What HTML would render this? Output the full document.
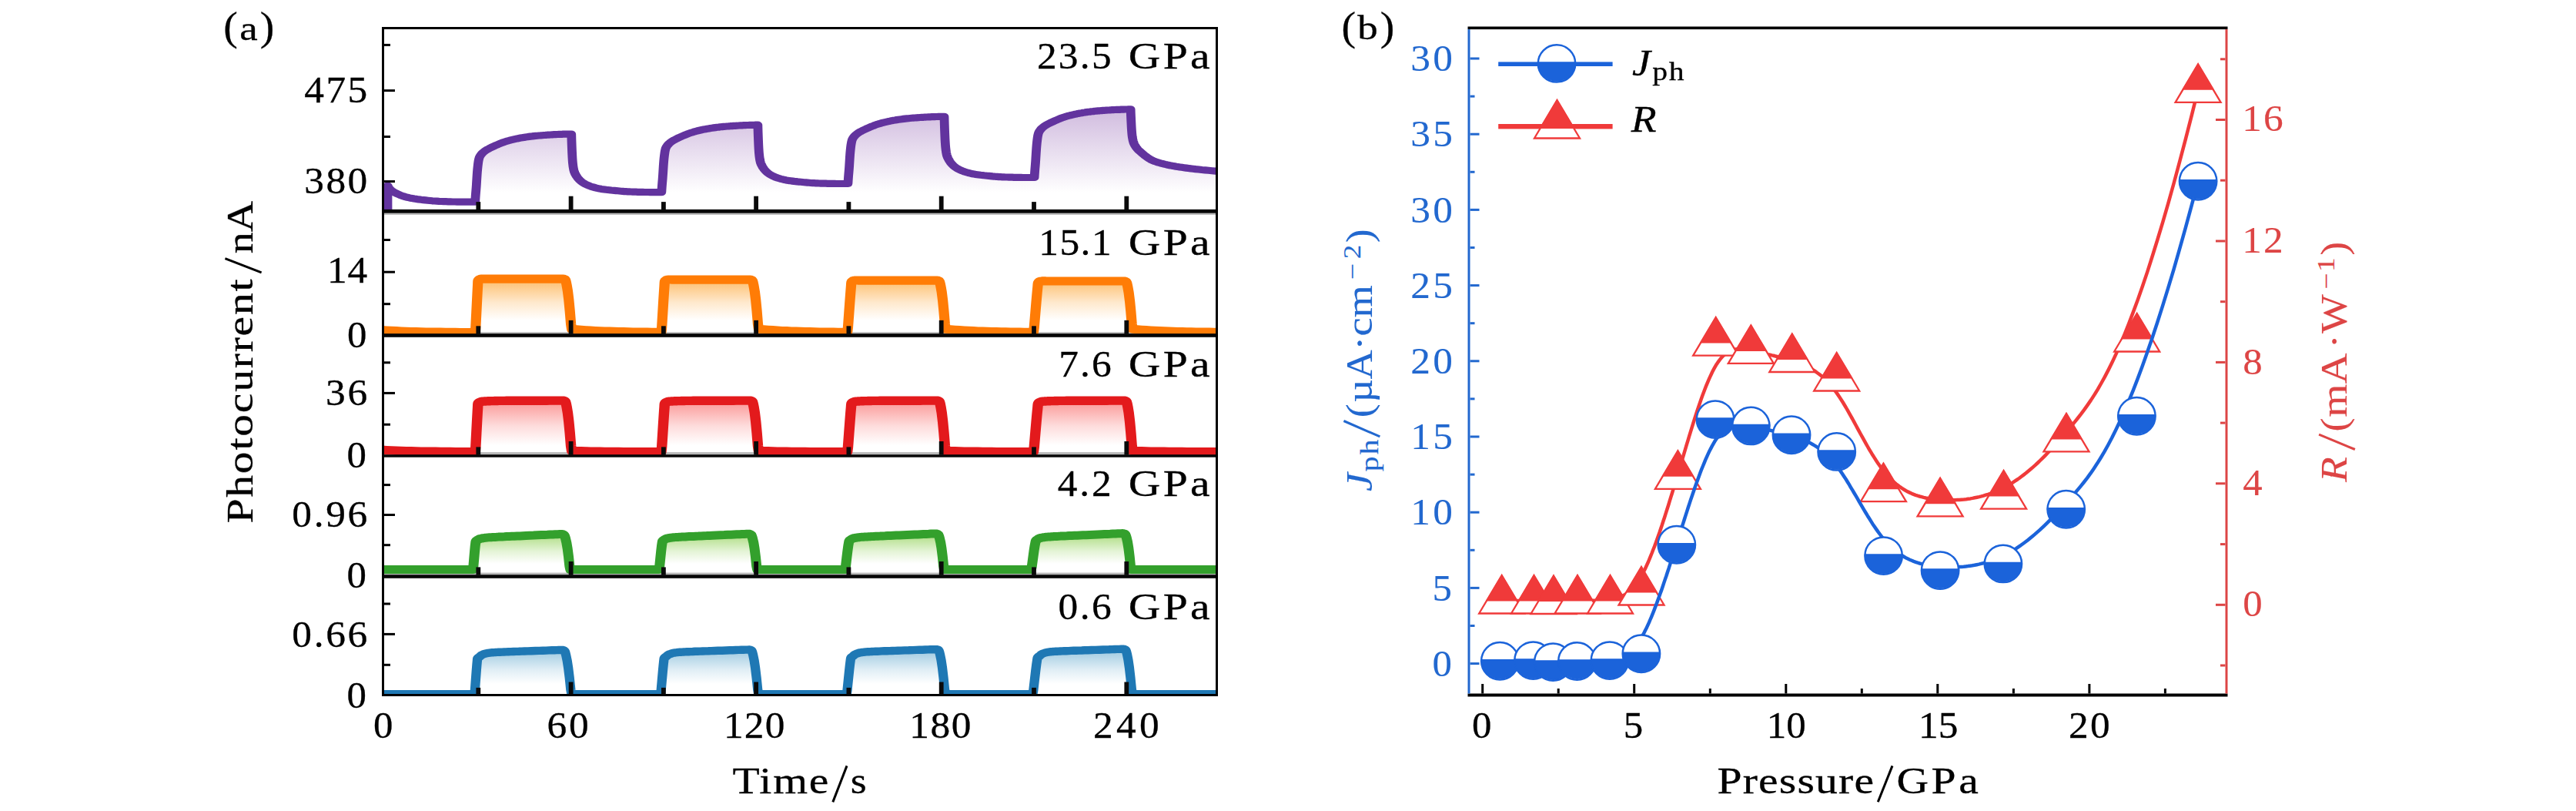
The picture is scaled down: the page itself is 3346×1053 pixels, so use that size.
<!DOCTYPE html>
<html><head><meta charset="utf-8"><title>Photocurrent vs pressure</title>
<style>
html,body{margin:0;padding:0;background:#fff;}
body{width:3346px;height:1053px;overflow:hidden;font-family:"Liberation Serif",serif;}
svg{display:block;position:absolute;left:0;top:0;}
</style></head><body>
<svg width="3346" height="1053" viewBox="0 0 3346 1053">
<rect width="3346" height="1053" fill="#fff"/>
<defs>
<linearGradient id="gP" gradientUnits="userSpaceOnUse" x1="0" y1="138" x2="0" y2="250"><stop offset="0" stop-color="#c4a9d6" stop-opacity="0.82"/><stop offset="1" stop-color="#c4a9d6" stop-opacity="0"/></linearGradient>
<linearGradient id="gO" gradientUnits="userSpaceOnUse" x1="0" y1="364" x2="0" y2="416"><stop offset="0" stop-color="#fdbf6f" stop-opacity="1.0"/><stop offset="0.55" stop-color="#fdbf6f" stop-opacity="0.35"/><stop offset="1" stop-color="#fdbf6f" stop-opacity="0"/></linearGradient>
<linearGradient id="gR" gradientUnits="userSpaceOnUse" x1="0" y1="522" x2="0" y2="578"><stop offset="0" stop-color="#fb9a99" stop-opacity="1.0"/><stop offset="0.55" stop-color="#fb9a99" stop-opacity="0.35"/><stop offset="1" stop-color="#fb9a99" stop-opacity="0"/></linearGradient>
<linearGradient id="gG" gradientUnits="userSpaceOnUse" x1="0" y1="696" x2="0" y2="732"><stop offset="0" stop-color="#b2df8a" stop-opacity="1.0"/><stop offset="0.55" stop-color="#b2df8a" stop-opacity="0.35"/><stop offset="1" stop-color="#b2df8a" stop-opacity="0"/></linearGradient>
<linearGradient id="gB" gradientUnits="userSpaceOnUse" x1="0" y1="847" x2="0" y2="888"><stop offset="0" stop-color="#a6cee3" stop-opacity="1.0"/><stop offset="0.55" stop-color="#a6cee3" stop-opacity="0.35"/><stop offset="1" stop-color="#a6cee3" stop-opacity="0"/></linearGradient>
<clipPath id="clipL"><rect x="497.5" y="36.5" width="1083.0" height="866.0"/></clipPath>
<filter id="nf" x="-5%" y="-5%" width="110%" height="110%"><feOffset dx="0" dy="0"/></filter>
</defs>
<g clip-path="url(#clipL)">
<rect x="497.5" y="276.5" width="1083.0" height="2.4" fill="#b9b9b9"/>
<rect x="497.5" y="431.2" width="1083.0" height="2.1" fill="#b9b9b9"/>
<rect x="497.5" y="587.1" width="1083.0" height="3.3" fill="#b9b9b9"/>
<rect x="497.5" y="743.6" width="1083.0" height="2.8" fill="#b9b9b9"/>
<path d="M503.5,274.0 L503.5,241.0 L503.7,241.5 L504.0,242.1 L504.3,242.6 L504.6,243.1 L504.9,243.6 L505.3,244.1 L505.6,244.5 L506.0,245.0 L506.4,245.5 L506.9,245.9 L507.4,246.4 L507.9,246.8 L508.4,247.3 L509.0,247.7 L509.6,248.1 L510.3,248.6 L511.7,249.5 L513.4,250.4 L515.4,251.4 L517.5,252.3 L519.7,253.3 L522.0,254.2 L524.3,254.9 L526.6,255.6 L529.3,256.3 L532.1,256.9 L535.0,257.4 L537.9,258.0 L540.9,258.4 L543.9,258.9 L546.9,259.3 L549.9,259.6 L552.8,259.9 L555.7,260.2 L558.6,260.5 L561.5,260.8 L564.5,261.0 L567.4,261.2 L570.3,261.4 L573.2,261.5 L576.1,261.6 L579.1,261.7 L582.1,261.8 L585.1,261.9 L588.0,262.0 L590.9,262.0 L593.8,262.1 L596.5,262.1 L598.8,262.1 L601.1,262.1 L603.3,262.2 L605.5,262.2 L607.6,262.2 L609.7,262.2 L611.8,262.2 L613.8,262.2 L617.2,262.2 L617.3,261.1 L617.3,260.0 L617.4,258.9 L617.5,257.8 L617.5,256.7 L617.6,255.6 L617.7,254.5 L617.8,253.4 L617.9,252.2 L618.0,251.1 L618.1,250.0 L618.2,248.8 L618.3,247.6 L618.4,246.4 L618.5,245.1 L618.6,243.7 L618.8,241.0 L619.0,238.0 L619.2,234.6 L619.4,231.1 L619.6,227.6 L619.9,224.1 L620.1,220.9 L620.4,218.1 L620.6,216.3 L620.8,214.5 L621.0,212.7 L621.2,211.0 L621.5,209.4 L621.7,207.9 L622.0,206.6 L622.4,205.3 L622.7,204.5 L623.0,203.8 L623.3,203.1 L623.7,202.4 L624.1,201.8 L624.6,201.2 L625.0,200.6 L625.5,200.0 L625.9,199.5 L626.4,199.0 L626.9,198.5 L627.4,198.1 L627.9,197.6 L628.4,197.2 L629.0,196.7 L629.7,196.2 L630.8,195.4 L632.1,194.6 L633.6,193.8 L635.1,193.0 L636.7,192.1 L638.4,191.3 L640.1,190.5 L641.8,189.7 L643.8,188.8 L645.8,187.9 L648.0,187.0 L650.1,186.1 L652.3,185.3 L654.6,184.5 L656.8,183.8 L659.0,183.1 L661.1,182.5 L663.3,181.9 L665.4,181.4 L667.6,180.9 L669.8,180.4 L671.9,179.9 L674.1,179.5 L676.3,179.1 L678.4,178.7 L680.6,178.4 L682.8,178.0 L684.9,177.7 L687.1,177.4 L689.3,177.1 L691.4,176.9 L693.6,176.6 L695.7,176.4 L697.9,176.2 L700.0,176.0 L702.2,175.9 L704.3,175.7 L706.5,175.5 L708.6,175.4 L710.8,175.2 L713.0,175.1 L715.2,175.0 L717.4,174.8 L719.6,174.7 L721.8,174.6 L723.9,174.5 L726.1,174.4 L728.1,174.4 L729.8,174.3 L731.4,174.2 L733.1,174.2 L734.7,174.1 L736.2,174.1 L737.8,174.1 L739.3,174.0 L740.8,174.0 L742.2,174.0 L742.3,176.3 L742.4,178.7 L742.4,181.0 L742.5,183.3 L742.6,185.6 L742.7,187.9 L742.8,190.2 L742.8,192.4 L742.9,194.6 L743.0,196.8 L743.1,199.0 L743.2,201.2 L743.3,203.3 L743.5,205.4 L743.6,207.5 L743.8,209.5 L743.9,211.1 L744.0,212.7 L744.2,214.2 L744.4,215.7 L744.6,217.2 L744.9,218.6 L745.1,220.0 L745.4,221.4 L745.8,222.6 L746.2,223.7 L746.7,224.9 L747.2,226.0 L747.8,227.0 L748.4,228.1 L749.1,229.1 L749.8,230.0 L750.4,231.0 L751.2,231.9 L752.0,232.8 L752.9,233.7 L753.8,234.5 L754.7,235.3 L755.7,236.1 L756.6,236.8 L757.8,237.6 L759.0,238.3 L760.2,239.0 L761.5,239.6 L762.9,240.2 L764.2,240.8 L765.6,241.4 L767.0,241.9 L768.6,242.4 L770.3,242.9 L772.0,243.4 L773.7,243.9 L775.4,244.3 L777.2,244.7 L779.0,245.0 L780.8,245.4 L782.9,245.7 L785.0,246.0 L787.2,246.3 L789.4,246.5 L791.6,246.7 L793.8,247.0 L796.0,247.2 L798.1,247.4 L800.3,247.6 L802.4,247.8 L804.6,248.0 L806.7,248.2 L808.9,248.4 L811.0,248.6 L813.2,248.7 L815.3,248.8 L817.5,248.9 L819.7,249.0 L821.8,249.1 L824.0,249.2 L826.2,249.2 L828.3,249.3 L830.5,249.3 L832.6,249.4 L834.9,249.4 L837.3,249.5 L839.7,249.5 L842.0,249.5 L844.3,249.6 L846.5,249.6 L848.4,249.6 L849.9,249.6 L850.7,249.6 L851.3,249.6 L852.0,249.6 L852.6,249.6 L853.2,249.6 L853.7,249.6 L854.1,249.6 L854.5,249.6 L859.3,249.6 L859.4,248.5 L859.5,247.5 L859.5,246.4 L859.6,245.3 L859.7,244.2 L859.8,243.1 L859.8,242.0 L859.9,240.9 L860.0,239.7 L860.1,238.6 L860.2,237.5 L860.3,236.3 L860.4,235.2 L860.5,234.0 L860.6,232.6 L860.7,231.2 L860.9,228.6 L861.1,225.6 L861.3,222.3 L861.5,218.8 L861.8,215.3 L862.0,211.9 L862.2,208.7 L862.5,205.9 L862.7,204.1 L862.9,202.3 L863.1,200.6 L863.4,198.9 L863.6,197.3 L863.9,195.8 L864.2,194.5 L864.5,193.2 L864.8,192.4 L865.1,191.7 L865.5,191.0 L865.9,190.4 L866.3,189.7 L866.7,189.1 L867.2,188.5 L867.6,188.0 L868.1,187.5 L868.5,187.0 L869.0,186.5 L869.5,186.1 L870.0,185.6 L870.6,185.2 L871.2,184.7 L871.8,184.2 L872.9,183.4 L874.3,182.6 L875.7,181.8 L877.2,181.0 L878.9,180.2 L880.5,179.3 L882.2,178.5 L883.9,177.8 L885.9,176.9 L888.0,176.0 L890.1,175.1 L892.3,174.2 L894.5,173.4 L896.7,172.6 L898.9,171.9 L901.1,171.2 L903.3,170.6 L905.4,170.0 L907.6,169.5 L909.7,169.0 L911.9,168.5 L914.1,168.1 L916.2,167.7 L918.4,167.3 L920.6,166.9 L922.7,166.5 L924.9,166.2 L927.1,165.9 L929.2,165.6 L931.4,165.3 L933.6,165.1 L935.7,164.8 L937.9,164.6 L940.0,164.4 L942.2,164.2 L944.3,164.0 L946.5,163.9 L948.6,163.7 L950.8,163.6 L952.9,163.4 L955.1,163.3 L957.3,163.2 L959.5,163.0 L961.7,162.9 L963.9,162.8 L966.1,162.7 L968.2,162.6 L970.2,162.5 L971.9,162.5 L973.6,162.4 L975.2,162.4 L976.8,162.3 L978.4,162.3 L979.9,162.3 L981.4,162.2 L982.9,162.2 L984.4,162.2 L984.4,164.6 L984.5,166.9 L984.6,169.3 L984.6,171.6 L984.7,173.9 L984.8,176.2 L984.9,178.5 L985.0,180.8 L985.1,183.0 L985.2,185.2 L985.3,187.4 L985.4,189.6 L985.5,191.8 L985.6,193.9 L985.7,196.0 L985.9,198.0 L986.0,199.6 L986.2,201.2 L986.4,202.8 L986.5,204.3 L986.8,205.8 L987.0,207.3 L987.3,208.7 L987.6,210.0 L987.9,211.2 L988.3,212.4 L988.8,213.5 L989.4,214.6 L989.9,215.7 L990.6,216.8 L991.2,217.8 L991.9,218.7 L992.6,219.7 L993.3,220.6 L994.1,221.5 L995.0,222.4 L995.9,223.3 L996.8,224.1 L997.8,224.9 L998.8,225.6 L999.9,226.4 L1001.1,227.1 L1002.4,227.8 L1003.7,228.4 L1005.0,229.1 L1006.4,229.7 L1007.8,230.2 L1009.2,230.7 L1010.8,231.3 L1012.4,231.8 L1014.1,232.3 L1015.8,232.7 L1017.6,233.1 L1019.4,233.5 L1021.2,233.9 L1023.0,234.2 L1025.0,234.6 L1027.2,234.8 L1029.3,235.1 L1031.5,235.4 L1033.7,235.6 L1035.9,235.9 L1038.1,236.1 L1040.3,236.3 L1042.4,236.5 L1044.6,236.7 L1046.7,236.9 L1048.9,237.1 L1051.0,237.3 L1053.2,237.5 L1055.3,237.6 L1057.5,237.7 L1059.6,237.8 L1061.8,237.9 L1064.0,238.0 L1066.1,238.1 L1068.3,238.1 L1070.5,238.2 L1072.6,238.2 L1074.8,238.3 L1077.0,238.3 L1079.4,238.4 L1081.8,238.4 L1084.2,238.4 L1086.5,238.5 L1088.6,238.5 L1090.5,238.5 L1092.1,238.5 L1092.8,238.5 L1093.5,238.5 L1094.1,238.5 L1094.7,238.5 L1095.3,238.5 L1095.8,238.5 L1096.3,238.5 L1096.7,238.5 L1101.4,238.3 L1101.5,237.2 L1101.6,236.2 L1101.7,235.1 L1101.7,234.0 L1101.8,232.9 L1101.9,231.8 L1102.0,230.7 L1102.0,229.6 L1102.1,228.5 L1102.2,227.3 L1102.3,226.2 L1102.4,225.1 L1102.5,223.9 L1102.6,222.7 L1102.7,221.4 L1102.8,220.0 L1103.0,217.4 L1103.2,214.4 L1103.4,211.1 L1103.7,207.6 L1103.9,204.1 L1104.1,200.8 L1104.4,197.6 L1104.6,194.8 L1104.8,193.0 L1105.0,191.2 L1105.3,189.5 L1105.5,187.8 L1105.7,186.3 L1106.0,184.8 L1106.3,183.4 L1106.6,182.2 L1106.9,181.4 L1107.2,180.7 L1107.6,180.0 L1108.0,179.3 L1108.4,178.7 L1108.8,178.1 L1109.3,177.5 L1109.7,177.0 L1110.2,176.4 L1110.6,176.0 L1111.1,175.5 L1111.6,175.0 L1112.1,174.6 L1112.7,174.2 L1113.3,173.7 L1113.9,173.2 L1115.1,172.4 L1116.4,171.6 L1117.8,170.8 L1119.4,170.0 L1121.0,169.2 L1122.7,168.4 L1124.4,167.6 L1126.0,166.8 L1128.0,165.9 L1130.1,165.0 L1132.2,164.1 L1134.4,163.3 L1136.6,162.4 L1138.8,161.6 L1141.1,160.9 L1143.2,160.3 L1145.4,159.7 L1147.5,159.1 L1149.7,158.6 L1151.9,158.1 L1154.0,157.6 L1156.2,157.2 L1158.4,156.7 L1160.5,156.3 L1162.7,156.0 L1164.9,155.6 L1167.0,155.3 L1169.2,155.0 L1171.4,154.7 L1173.5,154.4 L1175.7,154.1 L1177.8,153.9 L1180.0,153.7 L1182.1,153.5 L1184.3,153.3 L1186.4,153.1 L1188.6,153.0 L1190.7,152.8 L1192.9,152.7 L1195.0,152.5 L1197.2,152.4 L1199.4,152.3 L1201.6,152.1 L1203.9,152.0 L1206.1,151.9 L1208.2,151.8 L1210.3,151.7 L1212.3,151.6 L1214.0,151.6 L1215.7,151.5 L1217.3,151.5 L1218.9,151.4 L1220.5,151.4 L1222.1,151.4 L1223.6,151.3 L1225.0,151.3 L1226.5,151.3 L1226.6,153.8 L1226.6,156.2 L1226.7,158.6 L1226.8,161.1 L1226.9,163.5 L1226.9,165.9 L1227.0,168.3 L1227.1,170.6 L1227.2,172.9 L1227.3,175.2 L1227.4,177.5 L1227.5,179.8 L1227.6,182.0 L1227.7,184.2 L1227.9,186.4 L1228.0,188.4 L1228.1,190.1 L1228.3,191.8 L1228.5,193.4 L1228.7,195.0 L1228.9,196.6 L1229.1,198.1 L1229.4,199.5 L1229.7,201.0 L1230.0,202.2 L1230.5,203.4 L1230.9,204.6 L1231.5,205.7 L1232.1,206.8 L1232.7,207.9 L1233.3,209.0 L1234.0,210.0 L1234.7,211.0 L1235.5,211.9 L1236.3,212.9 L1237.1,213.8 L1238.0,214.7 L1239.0,215.6 L1239.9,216.4 L1240.9,217.1 L1242.0,217.9 L1243.2,218.6 L1244.5,219.4 L1245.8,220.0 L1247.1,220.7 L1248.5,221.3 L1249.9,221.9 L1251.3,222.4 L1252.9,223.0 L1254.5,223.5 L1256.2,224.0 L1257.9,224.5 L1259.7,224.9 L1261.5,225.3 L1263.3,225.7 L1265.1,226.1 L1267.2,226.4 L1269.3,226.7 L1271.4,227.0 L1273.6,227.3 L1275.8,227.5 L1278.0,227.8 L1280.2,228.0 L1282.4,228.2 L1284.6,228.4 L1286.7,228.6 L1288.9,228.9 L1291.0,229.1 L1293.2,229.3 L1295.3,229.4 L1297.5,229.6 L1299.6,229.7 L1301.8,229.8 L1303.9,229.9 L1306.1,230.0 L1308.3,230.0 L1310.4,230.1 L1312.6,230.2 L1314.7,230.2 L1316.9,230.3 L1319.2,230.3 L1321.5,230.3 L1323.9,230.4 L1326.3,230.4 L1328.6,230.5 L1330.7,230.5 L1332.6,230.5 L1334.2,230.5 L1334.9,230.5 L1335.6,230.5 L1336.3,230.5 L1336.9,230.5 L1337.4,230.5 L1337.9,230.5 L1338.4,230.5 L1338.8,230.5 L1343.6,230.5 L1343.6,229.4 L1343.7,228.3 L1343.8,227.2 L1343.9,226.1 L1343.9,225.0 L1344.0,223.9 L1344.1,222.8 L1344.2,221.6 L1344.3,220.5 L1344.4,219.3 L1344.5,218.2 L1344.5,217.1 L1344.6,215.9 L1344.8,214.6 L1344.9,213.3 L1345.0,211.9 L1345.2,209.2 L1345.4,206.2 L1345.6,202.8 L1345.8,199.3 L1346.0,195.7 L1346.3,192.3 L1346.5,189.1 L1346.8,186.2 L1347.0,184.3 L1347.2,182.5 L1347.4,180.8 L1347.6,179.1 L1347.9,177.5 L1348.1,176.0 L1348.4,174.6 L1348.8,173.4 L1349.0,172.6 L1349.4,171.8 L1349.7,171.1 L1350.1,170.4 L1350.5,169.8 L1351.0,169.2 L1351.4,168.6 L1351.9,168.0 L1352.3,167.5 L1352.8,167.0 L1353.2,166.5 L1353.7,166.1 L1354.3,165.6 L1354.8,165.2 L1355.4,164.7 L1356.1,164.2 L1357.2,163.4 L1358.5,162.6 L1360.0,161.8 L1361.5,160.9 L1363.1,160.1 L1364.8,159.3 L1366.5,158.5 L1368.2,157.7 L1370.1,156.8 L1372.2,155.9 L1374.3,155.0 L1376.5,154.1 L1378.7,153.2 L1381.0,152.4 L1383.2,151.7 L1385.4,151.0 L1387.5,150.4 L1389.7,149.9 L1391.8,149.3 L1394.0,148.8 L1396.2,148.3 L1398.3,147.9 L1400.5,147.4 L1402.7,147.0 L1404.8,146.7 L1407.0,146.3 L1409.2,146.0 L1411.3,145.6 L1413.5,145.3 L1415.6,145.1 L1417.8,144.8 L1420.0,144.6 L1422.1,144.3 L1424.3,144.1 L1426.4,143.9 L1428.6,143.8 L1430.7,143.6 L1432.9,143.4 L1435.0,143.3 L1437.2,143.1 L1439.4,143.0 L1441.6,142.9 L1443.8,142.7 L1446.0,142.6 L1448.2,142.5 L1450.3,142.4 L1452.4,142.3 L1454.5,142.3 L1456.2,142.2 L1457.8,142.1 L1459.5,142.1 L1461.1,142.0 L1462.6,142.0 L1464.2,142.0 L1465.7,141.9 L1467.2,141.9 L1468.6,141.9 L1468.7,144.0 L1468.8,146.1 L1468.9,148.1 L1468.9,150.2 L1469.0,152.3 L1469.1,154.4 L1469.2,156.4 L1469.3,158.5 L1469.4,160.6 L1469.6,162.8 L1469.7,165.0 L1469.8,167.1 L1469.9,169.2 L1470.1,171.3 L1470.3,173.3 L1470.4,175.1 L1470.6,176.5 L1470.8,177.9 L1471.0,179.2 L1471.2,180.4 L1471.5,181.7 L1471.8,182.9 L1472.1,184.0 L1472.4,185.1 L1472.8,186.0 L1473.1,186.9 L1473.6,187.7 L1474.0,188.6 L1474.5,189.4 L1475.0,190.2 L1475.6,191.0 L1476.1,191.8 L1476.8,192.7 L1477.6,193.6 L1478.4,194.5 L1479.3,195.4 L1480.3,196.2 L1481.3,197.1 L1482.3,198.0 L1483.3,198.9 L1484.8,200.1 L1486.3,201.4 L1488.0,202.7 L1489.8,204.0 L1491.6,205.2 L1493.4,206.4 L1495.3,207.5 L1497.1,208.4 L1499.1,209.2 L1501.0,209.9 L1503.1,210.6 L1505.1,211.2 L1507.2,211.8 L1509.3,212.3 L1511.4,212.9 L1513.4,213.4 L1515.4,213.8 L1517.4,214.3 L1519.4,214.7 L1521.4,215.1 L1523.4,215.4 L1525.5,215.8 L1527.6,216.2 L1529.7,216.5 L1532.4,216.9 L1535.1,217.3 L1537.9,217.7 L1540.8,218.1 L1543.8,218.5 L1546.8,218.9 L1549.9,219.2 L1553.0,219.6 L1557.0,220.0 L1561.2,220.5 L1565.4,220.9 L1569.8,221.3 L1574.3,221.7 L1578.9,222.1 L1583.6,222.5 L1588.4,222.9 L1588.4,274.0 L503.5,274.0Z" fill="url(#gP)"/>
<g transform="scale(1.28,1)"><path d="M393.36,274.0 L393.36,241.0 L393.55,241.5 L393.75,242.1 L393.97,242.6 L394.21,243.1 L394.47,243.6 L394.74,244.1 L395.02,244.5 L395.31,245.0 L395.65,245.5 L396.00,245.9 L396.37,246.4 L396.76,246.8 L397.19,247.3 L397.65,247.7 L398.14,248.1 L398.67,248.6 L399.78,249.5 L401.11,250.4 L402.62,251.4 L404.27,252.3 L406.01,253.3 L407.81,254.2 L409.62,254.9 L411.41,255.6 L413.49,256.3 L415.68,256.9 L417.94,257.4 L420.25,258.0 L422.60,258.4 L424.96,258.9 L427.30,259.3 L429.61,259.6 L431.88,259.9 L434.15,260.2 L436.43,260.5 L438.70,260.8 L440.98,261.0 L443.26,261.2 L445.54,261.4 L447.81,261.5 L450.11,261.6 L452.43,261.7 L454.76,261.8 L457.09,261.9 L459.39,262.0 L461.66,262.0 L463.87,262.1 L466.02,262.1 L467.81,262.1 L469.58,262.1 L471.32,262.2 L473.02,262.2 L474.70,262.2 L476.34,262.2 L477.95,262.2 L479.53,262.2 L482.18,262.2 L482.23,261.1 L482.28,260.0 L482.34,258.9 L482.40,257.8 L482.46,256.7 L482.52,255.6 L482.58,254.5 L482.64,253.4 L482.71,252.2 L482.79,251.1 L482.86,250.0 L482.94,248.8 L483.02,247.6 L483.10,246.4 L483.18,245.1 L483.27,243.7 L483.42,241.0 L483.57,238.0 L483.73,234.6 L483.90,231.1 L484.08,227.6 L484.27,224.1 L484.47,220.9 L484.68,218.1 L484.83,216.3 L484.99,214.5 L485.16,212.7 L485.33,211.0 L485.53,209.4 L485.74,207.9 L485.98,206.6 L486.24,205.3 L486.45,204.5 L486.70,203.8 L486.98,203.1 L487.29,202.4 L487.61,201.8 L487.95,201.2 L488.31,200.6 L488.66,200.0 L489.01,199.5 L489.36,199.0 L489.73,198.5 L490.12,198.1 L490.53,197.6 L490.97,197.2 L491.44,196.7 L491.94,196.2 L492.83,195.4 L493.84,194.6 L494.97,193.8 L496.18,193.0 L497.45,192.1 L498.76,191.3 L500.08,190.5 L501.39,189.7 L502.94,188.8 L504.55,187.9 L506.21,187.0 L507.92,186.1 L509.65,185.3 L511.38,184.5 L513.12,183.8 L514.83,183.1 L516.50,182.5 L518.19,181.9 L519.87,181.4 L521.56,180.9 L523.26,180.4 L524.95,179.9 L526.65,179.5 L528.35,179.1 L530.03,178.7 L531.72,178.4 L533.41,178.0 L535.10,177.7 L536.79,177.4 L538.48,177.1 L540.17,176.9 L541.86,176.6 L543.54,176.4 L545.22,176.2 L546.90,176.0 L548.58,175.9 L550.26,175.7 L551.94,175.5 L553.62,175.4 L555.30,175.2 L557.00,175.1 L558.73,175.0 L560.46,174.8 L562.19,174.7 L563.90,174.6 L565.59,174.5 L567.23,174.4 L568.82,174.4 L570.14,174.3 L571.44,174.2 L572.71,174.2 L573.97,174.1 L575.19,174.1 L576.40,174.1 L577.58,174.0 L578.74,174.0 L579.88,174.0 L579.93,176.3 L579.98,178.7 L580.03,181.0 L580.09,183.3 L580.15,185.6 L580.21,187.9 L580.28,190.2 L580.35,192.4 L580.42,194.6 L580.49,196.8 L580.57,199.0 L580.65,201.2 L580.74,203.3 L580.83,205.4 L580.94,207.5 L581.05,209.5 L581.16,211.1 L581.29,212.7 L581.42,214.2 L581.57,215.7 L581.75,217.2 L581.94,218.6 L582.15,220.0 L582.38,221.4 L582.64,222.6 L582.96,223.7 L583.34,224.9 L583.77,226.0 L584.23,227.0 L584.72,228.1 L585.23,229.1 L585.74,230.0 L586.29,231.0 L586.88,231.9 L587.51,232.8 L588.18,233.7 L588.88,234.5 L589.61,235.3 L590.36,236.1 L591.13,236.8 L592.01,237.6 L592.95,238.3 L593.92,239.0 L594.94,239.6 L595.99,240.2 L597.06,240.8 L598.16,241.4 L599.26,241.9 L600.50,242.4 L601.78,242.9 L603.10,243.4 L604.44,243.9 L605.81,244.3 L607.20,244.7 L608.61,245.0 L610.04,245.4 L611.65,245.7 L613.30,246.0 L614.98,246.3 L616.69,246.5 L618.41,246.7 L620.14,247.0 L621.85,247.2 L623.55,247.4 L625.23,247.6 L626.91,247.8 L628.59,248.0 L630.27,248.2 L631.95,248.4 L633.63,248.6 L635.31,248.7 L636.99,248.8 L638.68,248.9 L640.37,249.0 L642.06,249.1 L643.75,249.2 L645.44,249.2 L647.13,249.3 L648.82,249.3 L650.51,249.4 L652.26,249.4 L654.10,249.5 L655.98,249.5 L657.84,249.5 L659.63,249.6 L661.29,249.6 L662.78,249.6 L664.02,249.6 L664.58,249.6 L665.12,249.6 L665.62,249.6 L666.09,249.6 L666.52,249.6 L666.93,249.6 L667.29,249.6 L667.62,249.6 L671.34,249.6 L671.39,248.5 L671.45,247.5 L671.50,246.4 L671.56,245.3 L671.62,244.2 L671.68,243.1 L671.74,242.0 L671.81,240.9 L671.88,239.7 L671.95,238.6 L672.02,237.5 L672.10,236.3 L672.18,235.2 L672.26,234.0 L672.35,232.6 L672.43,231.2 L672.58,228.6 L672.74,225.6 L672.90,222.3 L673.07,218.8 L673.24,215.3 L673.43,211.9 L673.63,208.7 L673.84,205.9 L673.99,204.1 L674.15,202.3 L674.32,200.6 L674.50,198.9 L674.69,197.3 L674.90,195.8 L675.14,194.5 L675.40,193.2 L675.61,192.4 L675.86,191.7 L676.14,191.0 L676.45,190.4 L676.78,189.7 L677.12,189.1 L677.47,188.5 L677.82,188.0 L678.17,187.5 L678.53,187.0 L678.90,186.5 L679.28,186.1 L679.70,185.6 L680.13,185.2 L680.60,184.7 L681.11,184.2 L681.99,183.4 L683.01,182.6 L684.14,181.8 L685.35,181.0 L686.62,180.2 L687.92,179.3 L689.25,178.5 L690.56,177.8 L692.10,176.9 L693.71,176.0 L695.38,175.1 L697.08,174.2 L698.81,173.4 L700.55,172.6 L702.28,171.9 L704.00,171.2 L705.67,170.6 L707.35,170.0 L709.04,169.5 L710.73,169.0 L712.42,168.5 L714.12,168.1 L715.82,167.7 L717.51,167.3 L719.20,166.9 L720.88,166.5 L722.57,166.2 L724.26,165.9 L725.95,165.6 L727.65,165.3 L729.34,165.1 L731.03,164.8 L732.71,164.6 L734.39,164.4 L736.06,164.2 L737.74,164.0 L739.42,163.9 L741.10,163.7 L742.78,163.6 L744.46,163.4 L746.17,163.3 L747.89,163.2 L749.62,163.0 L751.35,162.9 L753.07,162.8 L754.75,162.7 L756.39,162.6 L757.98,162.5 L759.30,162.5 L760.60,162.4 L761.88,162.4 L763.13,162.3 L764.36,162.3 L765.56,162.3 L766.75,162.2 L767.90,162.2 L769.05,162.2 L769.09,164.6 L769.14,166.9 L769.19,169.3 L769.25,171.6 L769.31,173.9 L769.38,176.2 L769.45,178.5 L769.52,180.8 L769.59,183.0 L769.66,185.2 L769.73,187.4 L769.81,189.6 L769.90,191.8 L770.00,193.9 L770.10,196.0 L770.22,198.0 L770.33,199.6 L770.45,201.2 L770.59,202.8 L770.74,204.3 L770.91,205.8 L771.10,207.3 L771.31,208.7 L771.55,210.0 L771.80,211.2 L772.13,212.4 L772.51,213.5 L772.93,214.6 L773.39,215.7 L773.88,216.8 L774.39,217.8 L774.91,218.7 L775.45,219.7 L776.04,220.6 L776.67,221.5 L777.34,222.4 L778.04,223.3 L778.77,224.1 L779.52,224.9 L780.30,225.6 L781.18,226.4 L782.11,227.1 L783.09,227.8 L784.11,228.4 L785.15,229.1 L786.23,229.7 L787.32,230.2 L788.42,230.7 L789.67,231.3 L790.95,231.8 L792.26,232.3 L793.61,232.7 L794.98,233.1 L796.37,233.5 L797.78,233.9 L799.20,234.2 L800.81,234.6 L802.46,234.8 L804.15,235.1 L805.85,235.4 L807.58,235.6 L809.30,235.9 L811.02,236.1 L812.72,236.3 L814.40,236.5 L816.08,236.7 L817.76,236.9 L819.43,237.1 L821.11,237.3 L822.79,237.5 L824.47,237.6 L826.16,237.7 L827.84,237.8 L829.53,237.9 L831.22,238.0 L832.91,238.1 L834.60,238.1 L836.29,238.2 L837.98,238.2 L839.67,238.3 L841.42,238.3 L843.27,238.4 L845.15,238.4 L847.01,238.4 L848.80,238.5 L850.46,238.5 L851.94,238.5 L853.19,238.5 L853.75,238.5 L854.28,238.5 L854.78,238.5 L855.25,238.5 L855.69,238.5 L856.09,238.5 L856.46,238.5 L856.78,238.5 L860.50,238.3 L860.56,237.2 L860.61,236.2 L860.67,235.1 L860.72,234.0 L860.78,232.9 L860.84,231.8 L860.91,230.7 L860.97,229.6 L861.04,228.5 L861.11,227.3 L861.19,226.2 L861.26,225.1 L861.34,223.9 L861.42,222.7 L861.51,221.4 L861.60,220.0 L861.75,217.4 L861.90,214.4 L862.06,211.1 L862.23,207.6 L862.41,204.1 L862.59,200.8 L862.79,197.6 L863.00,194.8 L863.16,193.0 L863.32,191.2 L863.48,189.5 L863.66,187.8 L863.86,186.3 L864.07,184.8 L864.30,183.4 L864.57,182.2 L864.78,181.4 L865.03,180.7 L865.31,180.0 L865.61,179.3 L865.94,178.7 L866.28,178.1 L866.63,177.5 L866.99,177.0 L867.33,176.4 L867.69,176.0 L868.06,175.5 L868.45,175.0 L868.86,174.6 L869.30,174.2 L869.77,173.7 L870.27,173.2 L871.16,172.4 L872.17,171.6 L873.30,170.8 L874.51,170.0 L875.78,169.2 L877.09,168.4 L878.41,167.6 L879.72,166.8 L881.27,165.9 L882.88,165.0 L884.54,164.1 L886.25,163.3 L887.97,162.4 L889.71,161.6 L891.45,160.9 L893.16,160.3 L894.83,159.7 L896.51,159.1 L898.20,158.6 L899.89,158.1 L901.59,157.6 L903.28,157.2 L904.98,156.7 L906.68,156.3 L908.36,156.0 L910.05,155.6 L911.74,155.3 L913.43,155.0 L915.12,154.7 L916.81,154.4 L918.50,154.1 L920.19,153.9 L921.87,153.7 L923.55,153.5 L925.23,153.3 L926.91,153.1 L928.59,153.0 L930.27,152.8 L931.95,152.7 L933.63,152.5 L935.33,152.4 L937.05,152.3 L938.79,152.1 L940.52,152.0 L942.23,151.9 L943.91,151.8 L945.56,151.7 L947.14,151.6 L948.47,151.6 L949.77,151.5 L951.04,151.5 L952.29,151.4 L953.52,151.4 L954.73,151.4 L955.91,151.3 L957.07,151.3 L958.21,151.3 L958.26,153.8 L958.30,156.2 L958.36,158.6 L958.42,161.1 L958.48,163.5 L958.54,165.9 L958.61,168.3 L958.68,170.6 L958.75,172.9 L958.82,175.2 L958.90,177.5 L958.98,179.8 L959.06,182.0 L959.16,184.2 L959.27,186.4 L959.38,188.4 L959.49,190.1 L959.61,191.8 L959.75,193.4 L959.90,195.0 L960.07,196.6 L960.26,198.1 L960.48,199.5 L960.71,201.0 L960.97,202.2 L961.29,203.4 L961.67,204.6 L962.09,205.7 L962.56,206.8 L963.05,207.9 L963.55,209.0 L964.07,210.0 L964.61,211.0 L965.20,211.9 L965.83,212.9 L966.50,213.8 L967.20,214.7 L967.93,215.6 L968.69,216.4 L969.46,217.1 L970.34,217.9 L971.27,218.6 L972.25,219.4 L973.27,220.0 L974.32,220.7 L975.39,221.3 L976.48,221.9 L977.59,222.4 L978.83,223.0 L980.11,223.5 L981.42,224.0 L982.77,224.5 L984.14,224.9 L985.53,225.3 L986.94,225.7 L988.37,226.1 L989.97,226.4 L991.62,226.7 L993.31,227.0 L995.02,227.3 L996.74,227.5 L998.46,227.8 L1000.18,228.0 L1001.88,228.2 L1003.56,228.4 L1005.24,228.6 L1006.92,228.9 L1008.60,229.1 L1010.28,229.3 L1011.96,229.4 L1013.64,229.6 L1015.32,229.7 L1017.01,229.8 L1018.69,229.9 L1020.38,230.0 L1022.07,230.0 L1023.76,230.1 L1025.46,230.2 L1027.15,230.2 L1028.84,230.3 L1030.59,230.3 L1032.43,230.3 L1034.31,230.4 L1036.17,230.4 L1037.96,230.5 L1039.62,230.5 L1041.10,230.5 L1042.35,230.5 L1042.91,230.5 L1043.44,230.5 L1043.95,230.5 L1044.42,230.5 L1044.85,230.5 L1045.25,230.5 L1045.62,230.5 L1045.95,230.5 L1049.67,230.5 L1049.72,229.4 L1049.77,228.3 L1049.83,227.2 L1049.89,226.1 L1049.95,225.0 L1050.01,223.9 L1050.07,222.8 L1050.14,221.6 L1050.21,220.5 L1050.28,219.3 L1050.35,218.2 L1050.43,217.1 L1050.51,215.9 L1050.59,214.6 L1050.67,213.3 L1050.76,211.9 L1050.91,209.2 L1051.06,206.2 L1051.22,202.8 L1051.39,199.3 L1051.57,195.7 L1051.76,192.3 L1051.96,189.1 L1052.17,186.2 L1052.32,184.3 L1052.48,182.5 L1052.65,180.8 L1052.83,179.1 L1053.02,177.5 L1053.23,176.0 L1053.47,174.6 L1053.73,173.4 L1053.94,172.6 L1054.19,171.8 L1054.47,171.1 L1054.78,170.4 L1055.10,169.8 L1055.45,169.2 L1055.80,168.6 L1056.15,168.0 L1056.50,167.5 L1056.85,167.0 L1057.22,166.5 L1057.61,166.1 L1058.02,165.6 L1058.46,165.2 L1058.93,164.7 L1059.43,164.2 L1060.32,163.4 L1061.34,162.6 L1062.46,161.8 L1063.67,160.9 L1064.94,160.1 L1066.25,159.3 L1067.57,158.5 L1068.89,157.7 L1070.43,156.8 L1072.04,155.9 L1073.71,155.0 L1075.41,154.1 L1077.14,153.2 L1078.88,152.4 L1080.61,151.7 L1082.32,151.0 L1084.00,150.4 L1085.68,149.9 L1087.36,149.3 L1089.05,148.8 L1090.75,148.3 L1092.45,147.9 L1094.14,147.4 L1095.84,147.0 L1097.52,146.7 L1099.21,146.3 L1100.90,146.0 L1102.59,145.6 L1104.28,145.3 L1105.97,145.1 L1107.66,144.8 L1109.36,144.6 L1111.03,144.3 L1112.71,144.1 L1114.39,143.9 L1116.07,143.8 L1117.75,143.6 L1119.43,143.4 L1121.11,143.3 L1122.79,143.1 L1124.49,143.0 L1126.22,142.9 L1127.95,142.7 L1129.68,142.6 L1131.39,142.5 L1133.08,142.4 L1134.72,142.3 L1136.31,142.3 L1137.63,142.2 L1138.93,142.1 L1140.20,142.1 L1141.46,142.0 L1142.69,142.0 L1143.89,142.0 L1145.07,141.9 L1146.23,141.9 L1147.38,141.9 L1147.43,144.0 L1147.48,146.1 L1147.55,148.1 L1147.61,150.2 L1147.69,152.3 L1147.76,154.4 L1147.84,156.4 L1147.92,158.5 L1148.01,160.6 L1148.09,162.8 L1148.18,165.0 L1148.28,167.1 L1148.39,169.2 L1148.51,171.3 L1148.64,173.3 L1148.78,175.1 L1148.91,176.5 L1149.06,177.9 L1149.23,179.2 L1149.41,180.4 L1149.62,181.7 L1149.84,182.9 L1150.08,184.0 L1150.34,185.1 L1150.60,186.0 L1150.89,186.9 L1151.21,187.7 L1151.57,188.6 L1151.95,189.4 L1152.36,190.2 L1152.79,191.0 L1153.23,191.8 L1153.78,192.7 L1154.39,193.6 L1155.04,194.5 L1155.73,195.4 L1156.47,196.2 L1157.24,197.1 L1158.04,198.0 L1158.86,198.9 L1159.98,200.1 L1161.21,201.4 L1162.51,202.7 L1163.87,204.0 L1165.28,205.2 L1166.72,206.4 L1168.18,207.5 L1169.64,208.4 L1171.14,209.2 L1172.68,209.9 L1174.26,210.6 L1175.87,211.2 L1177.50,211.8 L1179.13,212.3 L1180.76,212.9 L1182.38,213.4 L1183.94,213.8 L1185.49,214.3 L1187.04,214.7 L1188.59,215.1 L1190.16,215.4 L1191.76,215.8 L1193.41,216.2 L1195.11,216.5 L1197.20,216.9 L1199.33,217.3 L1201.52,217.7 L1203.77,218.1 L1206.07,218.5 L1208.42,218.9 L1210.84,219.2 L1213.31,219.6 L1216.44,220.0 L1219.67,220.5 L1222.99,220.9 L1226.40,221.3 L1229.91,221.7 L1233.51,222.1 L1237.19,222.5 L1240.97,222.9" fill="none" stroke="#62339e" stroke-width="9.2" stroke-linejoin="round"/></g>
<path d="M617.2,431.5 L617.9,424.7 L618.8,405.9 L619.6,390.4 L620.2,378.5 L620.6,370.5 L620.7,368.6 L620.7,367.0 L620.8,365.8 L620.9,364.7 L621.2,364.0 L621.9,363.3 L622.7,362.8 L623.5,362.5 L624.1,362.3 L624.7,362.2 L625.4,362.1 L626.0,362.1 L626.7,362.1 L627.5,362.1 L628.2,362.1 L629.0,362.1 L629.7,362.1 L630.5,362.1 L631.2,362.1 L632.0,362.1 L632.9,362.1 L633.9,362.1 L635.0,362.1 L636.0,362.1 L637.2,362.1 L638.4,362.1 L639.7,362.1 L641.0,362.1 L642.6,362.1 L644.3,362.1 L646.1,362.1 L648.0,362.1 L650.3,362.1 L652.8,362.1 L655.4,362.1 L658.0,362.1 L661.1,362.1 L664.3,362.1 L667.6,362.1 L671.0,362.1 L674.6,362.1 L678.3,362.1 L682.1,362.1 L686.0,362.1 L690.9,362.1 L696.0,362.1 L701.1,362.1 L706.0,362.1 L710.0,362.1 L713.8,362.1 L717.5,362.1 L721.0,362.1 L723.7,362.1 L726.3,362.1 L728.8,362.1 L731.2,362.1 L732.0,362.2 L732.8,362.4 L733.5,362.7 L734.0,363.0 L734.6,363.9 L735.1,365.6 L735.6,367.6 L736.1,369.9 L737.4,377.9 L738.8,389.2 L740.2,403.5 L741.6,420.7 L742.6,427.2 L742.6,431.7 L617.2,431.7Z" fill="url(#gO)"/>
<path d="M858.9,431.4 L859.7,424.8 L860.8,406.2 L861.7,390.9 L862.5,379.2 L863.0,371.2 L863.1,369.4 L863.2,367.9 L863.3,366.6 L863.4,365.6 L863.8,364.9 L864.4,364.2 L865.2,363.7 L866.0,363.4 L866.6,363.3 L867.2,363.1 L867.9,363.1 L868.5,363.0 L869.2,363.0 L870.0,363.0 L870.7,363.0 L871.5,363.0 L872.2,363.0 L873.0,363.1 L873.7,363.1 L874.5,363.1 L875.4,363.1 L876.4,363.1 L877.5,363.1 L878.5,363.1 L879.7,363.1 L880.9,363.1 L882.2,363.1 L883.5,363.1 L885.1,363.1 L886.8,363.1 L888.6,363.1 L890.5,363.1 L892.8,363.1 L895.3,363.1 L897.9,363.1 L900.5,363.1 L903.6,363.1 L906.8,363.1 L910.1,363.1 L913.5,363.1 L917.1,363.1 L920.8,363.1 L924.6,363.1 L928.5,363.1 L933.4,363.1 L938.5,363.1 L943.6,363.1 L948.5,363.1 L952.5,363.1 L956.3,363.1 L960.0,363.1 L963.5,363.1 L966.3,363.1 L969.0,363.1 L971.6,363.1 L974.1,363.1 L975.0,363.2 L975.7,363.4 L976.4,363.7 L976.9,364.0 L977.6,364.9 L978.1,366.5 L978.5,368.5 L979.0,370.8 L980.3,378.7 L981.7,389.7 L983.1,403.8 L984.5,420.8 L985.5,427.2 L985.5,431.7 L858.9,431.7Z" fill="url(#gO)"/>
<path d="M1100.7,431.4 L1101.5,424.9 L1102.8,406.6 L1103.9,391.5 L1104.8,380.0 L1105.4,372.1 L1105.5,370.4 L1105.6,368.9 L1105.7,367.6 L1105.9,366.6 L1106.3,365.9 L1106.9,365.2 L1107.7,364.7 L1108.5,364.4 L1109.1,364.3 L1109.7,364.1 L1110.4,364.1 L1111.0,364.0 L1111.7,364.0 L1112.5,364.0 L1113.2,364.0 L1114.0,364.0 L1114.7,364.0 L1115.5,364.1 L1116.2,364.1 L1117.0,364.1 L1117.9,364.1 L1118.9,364.1 L1120.0,364.1 L1121.0,364.1 L1122.2,364.1 L1123.4,364.1 L1124.7,364.1 L1126.0,364.1 L1127.6,364.1 L1129.3,364.1 L1131.1,364.1 L1133.0,364.1 L1135.3,364.1 L1137.8,364.1 L1140.4,364.1 L1143.0,364.1 L1146.1,364.1 L1149.3,364.1 L1152.6,364.1 L1156.0,364.1 L1159.6,364.1 L1163.3,364.1 L1167.1,364.1 L1171.0,364.1 L1175.9,364.1 L1181.0,364.1 L1186.1,364.1 L1191.0,364.1 L1195.0,364.1 L1198.8,364.1 L1202.5,364.1 L1206.0,364.1 L1208.9,364.1 L1211.7,364.1 L1214.5,364.1 L1217.1,364.1 L1217.9,364.2 L1218.7,364.4 L1219.3,364.7 L1219.9,365.0 L1220.5,365.9 L1221.0,367.5 L1221.4,369.4 L1221.9,371.7 L1223.3,379.4 L1224.6,390.3 L1226.0,404.2 L1227.3,420.9 L1228.3,427.2 L1228.3,431.7 L1100.7,431.7Z" fill="url(#gO)"/>
<path d="M1342.4,431.4 L1343.3,425.0 L1344.8,406.9 L1346.1,392.0 L1347.1,380.6 L1347.8,372.9 L1348.0,371.2 L1348.1,369.7 L1348.2,368.5 L1348.4,367.5 L1348.8,366.8 L1349.5,366.1 L1350.2,365.6 L1351.0,365.3 L1351.6,365.2 L1352.2,365.0 L1352.9,365.0 L1353.5,364.9 L1354.2,364.9 L1355.0,364.9 L1355.7,364.9 L1356.5,364.9 L1357.2,364.9 L1358.0,365.0 L1358.7,365.0 L1359.5,365.0 L1360.4,365.0 L1361.4,365.0 L1362.5,365.0 L1363.5,365.0 L1364.7,365.0 L1365.9,365.0 L1367.2,365.0 L1368.5,365.0 L1370.1,365.0 L1371.8,365.0 L1373.6,365.0 L1375.5,365.0 L1377.8,365.0 L1380.3,365.0 L1382.9,365.0 L1385.5,365.0 L1388.6,365.0 L1391.8,365.0 L1395.1,365.0 L1398.5,365.0 L1402.1,365.0 L1405.8,365.0 L1409.6,365.0 L1413.5,365.0 L1418.4,365.0 L1423.5,365.0 L1428.6,365.0 L1433.5,365.0 L1437.4,365.0 L1441.3,365.0 L1444.9,365.0 L1448.5,365.0 L1451.5,365.0 L1454.4,365.0 L1457.3,365.0 L1460.0,365.0 L1460.8,365.1 L1461.6,365.3 L1462.3,365.6 L1462.8,365.9 L1463.4,366.8 L1463.9,368.3 L1464.4,370.3 L1464.8,372.5 L1466.2,380.1 L1467.5,390.8 L1468.9,404.5 L1470.2,421.0 L1471.2,427.2 L1471.2,431.7 L1342.4,431.7Z" fill="url(#gO)"/>
<g transform="scale(1.18,1)"><path d="M419.92,428.5 L425.34,429.0 L430.77,429.4 L436.20,429.7 L441.63,430.0 L447.06,430.3 L452.48,430.5 L457.91,430.7 L463.34,430.8 L468.77,431.0 L474.20,431.1 L479.63,431.2 L485.05,431.2 L490.48,431.3 L495.91,431.4 L501.34,431.4 L506.77,431.5 L512.19,431.5 L517.62,431.5 L523.05,431.5 L523.05,431.5 L523.60,424.7 L524.39,405.9 L525.05,390.4 L525.56,378.5 L525.92,370.5 L525.99,368.6 L526.03,367.0 L526.09,365.8 L526.19,364.7 L526.48,364.0 L527.05,363.3 L527.74,362.8 L528.39,362.5 L528.90,362.3 L529.42,362.2 L529.96,362.1 L530.51,362.1 L531.13,362.1 L531.76,362.1 L532.41,362.1 L533.05,362.1 L533.68,362.1 L534.30,362.1 L534.93,362.1 L535.59,362.1 L536.40,362.1 L537.23,362.1 L538.10,362.1 L538.98,362.1 L539.99,362.1 L541.03,362.1 L542.10,362.1 L543.22,362.1 L544.61,362.1 L546.06,362.1 L547.57,362.1 L549.15,362.1 L551.14,362.1 L553.23,362.1 L555.40,362.1 L557.63,362.1 L560.26,362.1 L562.99,362.1 L565.80,362.1 L568.64,362.1 L571.72,362.1 L574.83,362.1 L578.03,362.1 L581.36,362.1 L585.48,362.1 L589.83,362.1 L594.18,362.1 L598.31,362.1 L601.67,362.1 L604.93,362.1 L608.06,362.1 L611.02,362.1 L613.33,362.1 L615.54,362.1 L617.65,362.1 L619.66,362.1 L620.36,362.2 L621.01,362.4 L621.58,362.7 L622.03,363.0 L622.57,363.9 L622.99,365.6 L623.37,367.6 L623.77,369.9 L624.94,377.9 L626.11,389.2 L627.28,403.5 L628.47,420.7 L629.32,427.2 L629.32,427.2 L634.51,427.8 L639.70,428.3 L644.89,428.8 L650.08,429.1 L655.27,429.5 L660.45,429.8 L665.64,430.0 L670.83,430.2 L676.02,430.4 L681.21,430.6 L686.40,430.7 L691.59,430.9 L696.78,431.0 L701.97,431.1 L707.15,431.1 L712.34,431.2 L717.53,431.3 L722.72,431.3 L727.91,431.4 L727.91,431.4 L728.53,424.8 L729.48,406.2 L730.27,390.9 L730.90,379.2 L731.35,371.2 L731.44,369.4 L731.50,367.9 L731.57,366.6 L731.69,365.6 L732.00,364.9 L732.57,364.2 L733.25,363.7 L733.90,363.4 L734.41,363.3 L734.93,363.1 L735.47,363.1 L736.02,363.0 L736.64,363.0 L737.27,363.0 L737.92,363.0 L738.56,363.0 L739.19,363.0 L739.81,363.1 L740.44,363.1 L741.10,363.1 L741.91,363.1 L742.74,363.1 L743.61,363.1 L744.49,363.1 L745.50,363.1 L746.54,363.1 L747.61,363.1 L748.73,363.1 L750.12,363.1 L751.57,363.1 L753.08,363.1 L754.66,363.1 L756.65,363.1 L758.73,363.1 L760.90,363.1 L763.14,363.1 L765.77,363.1 L768.50,363.1 L771.31,363.1 L774.15,363.1 L777.22,363.1 L780.34,363.1 L783.54,363.1 L786.86,363.1 L790.99,363.1 L795.34,363.1 L799.69,363.1 L803.81,363.1 L807.17,363.1 L810.42,363.1 L813.55,363.1 L816.53,363.1 L818.92,363.1 L821.22,363.1 L823.43,363.1 L825.54,363.1 L826.24,363.2 L826.89,363.4 L827.45,363.7 L827.91,364.0 L828.44,364.9 L828.86,366.5 L829.24,368.5 L829.64,370.8 L830.80,378.7 L831.96,389.7 L833.12,403.8 L834.29,420.8 L835.14,427.2 L835.14,427.2 L840.28,427.8 L845.42,428.3 L850.56,428.7 L855.69,429.1 L860.83,429.5 L865.97,429.7 L871.11,430.0 L876.25,430.2 L881.39,430.4 L886.52,430.6 L891.66,430.7 L896.80,430.8 L901.94,431.0 L907.08,431.1 L912.22,431.1 L917.35,431.2 L922.49,431.3 L927.63,431.3 L932.77,431.4 L932.77,431.4 L933.45,424.9 L934.57,406.6 L935.50,391.5 L936.24,380.0 L936.78,372.1 L936.89,370.4 L936.97,368.9 L937.06,367.6 L937.20,366.6 L937.52,365.9 L938.09,365.2 L938.76,364.7 L939.41,364.4 L939.92,364.3 L940.44,364.1 L940.98,364.1 L941.53,364.0 L942.14,364.0 L942.78,364.0 L943.43,364.0 L944.07,364.0 L944.70,364.0 L945.32,364.1 L945.95,364.1 L946.61,364.1 L947.41,364.1 L948.25,364.1 L949.11,364.1 L950.00,364.1 L951.01,364.1 L952.05,364.1 L953.12,364.1 L954.24,364.1 L955.62,364.1 L957.08,364.1 L958.59,364.1 L960.17,364.1 L962.15,364.1 L964.24,364.1 L966.41,364.1 L968.64,364.1 L971.28,364.1 L974.01,364.1 L976.82,364.1 L979.66,364.1 L982.73,364.1 L985.85,364.1 L989.05,364.1 L992.37,364.1 L996.49,364.1 L1000.85,364.1 L1005.20,364.1 L1009.32,364.1 L1012.67,364.1 L1015.91,364.1 L1019.04,364.1 L1022.03,364.1 L1024.51,364.1 L1026.90,364.1 L1029.20,364.1 L1031.41,364.1 L1032.11,364.2 L1032.76,364.4 L1033.33,364.7 L1033.79,365.0 L1034.31,365.9 L1034.73,367.5 L1035.11,369.4 L1035.51,371.7 L1036.66,379.4 L1037.81,390.3 L1038.96,404.2 L1040.12,420.9 L1040.96,427.2 L1040.96,427.2 L1046.05,427.8 L1051.14,428.3 L1056.22,428.7 L1061.31,429.1 L1066.40,429.4 L1071.49,429.7 L1076.57,430.0 L1081.66,430.2 L1086.75,430.4 L1091.84,430.6 L1096.93,430.7 L1102.01,430.8 L1107.10,430.9 L1112.19,431.0 L1117.28,431.1 L1122.36,431.2 L1127.45,431.3 L1132.54,431.3 L1137.63,431.4 L1137.63,431.4 L1138.37,425.0 L1139.66,406.9 L1140.72,392.0 L1141.58,380.6 L1142.21,372.9 L1142.34,371.2 L1142.43,369.7 L1142.54,368.5 L1142.71,367.5 L1143.04,366.8 L1143.61,366.1 L1144.28,365.6 L1144.92,365.3 L1145.42,365.2 L1145.95,365.0 L1146.48,365.0 L1147.03,364.9 L1147.65,364.9 L1148.29,364.9 L1148.93,364.9 L1149.58,364.9 L1150.20,364.9 L1150.83,365.0 L1151.46,365.0 L1152.12,365.0 L1152.92,365.0 L1153.76,365.0 L1154.62,365.0 L1155.51,365.0 L1156.52,365.0 L1157.55,365.0 L1158.63,365.0 L1159.75,365.0 L1161.13,365.0 L1162.58,365.0 L1164.10,365.0 L1165.68,365.0 L1167.66,365.0 L1169.75,365.0 L1171.92,365.0 L1174.15,365.0 L1176.79,365.0 L1179.52,365.0 L1182.33,365.0 L1185.17,365.0 L1188.24,365.0 L1191.36,365.0 L1194.56,365.0 L1197.88,365.0 L1202.00,365.0 L1206.36,365.0 L1210.71,365.0 L1214.83,365.0 L1218.17,365.0 L1221.41,365.0 L1224.53,365.0 L1227.54,365.0 L1230.10,365.0 L1232.57,365.0 L1234.97,365.0 L1237.29,365.0 L1237.99,365.1 L1238.64,365.3 L1239.20,365.6 L1239.66,365.9 L1240.19,366.8 L1240.60,368.3 L1240.98,370.3 L1241.38,372.5 L1242.52,380.1 L1243.66,390.8 L1244.80,404.5 L1245.94,421.0 L1246.78,427.2 L1246.78,427.2 L1251.74,427.8 L1256.71,428.3 L1261.67,428.7 L1266.64,429.1 L1271.60,429.4 L1276.57,429.7 L1281.53,429.9 L1286.49,430.2 L1291.46,430.4 L1296.42,430.5 L1301.39,430.7 L1306.35,430.8 L1311.32,430.9 L1316.28,431.0 L1321.24,431.1 L1326.21,431.2 L1331.17,431.2 L1336.14,431.3 L1341.10,431.3" fill="none" stroke="#ff7c06" stroke-width="11.2" stroke-linejoin="round"/></g>
<path d="M617.2,586.7 L617.9,580.3 L618.8,562.6 L619.6,548.1 L620.2,536.9 L620.6,529.4 L620.7,527.8 L620.7,526.3 L620.8,525.2 L620.9,524.2 L621.2,523.5 L621.9,522.9 L622.7,522.4 L623.5,522.0 L624.1,521.8 L624.7,521.6 L625.4,521.4 L626.0,521.3 L626.7,521.2 L627.5,521.2 L628.2,521.1 L629.0,521.1 L629.7,521.0 L630.5,521.0 L631.2,520.9 L632.0,520.9 L632.9,520.8 L633.9,520.8 L635.0,520.7 L636.0,520.7 L637.2,520.7 L638.4,520.6 L639.7,520.6 L641.0,520.6 L642.6,520.5 L644.3,520.5 L646.1,520.5 L648.0,520.4 L650.3,520.4 L652.8,520.4 L655.4,520.4 L658.0,520.3 L661.1,520.3 L664.3,520.3 L667.6,520.3 L671.0,520.3 L674.6,520.3 L678.3,520.2 L682.1,520.2 L686.0,520.2 L690.9,520.2 L696.0,520.2 L701.1,520.2 L706.0,520.2 L710.0,520.2 L713.8,520.1 L717.5,520.1 L721.0,520.1 L723.7,520.1 L726.3,520.1 L728.8,520.1 L731.2,520.1 L732.0,520.2 L732.8,520.4 L733.5,520.7 L734.0,521.0 L734.6,522.0 L735.1,523.6 L735.6,525.6 L736.1,527.9 L737.4,536.0 L738.8,547.3 L740.2,561.7 L741.6,579.0 L742.6,585.5 L742.6,586.8 L617.2,586.8Z" fill="url(#gR)"/>
<path d="M858.9,586.7 L859.7,580.3 L860.8,562.6 L861.7,548.1 L862.5,536.9 L863.0,529.4 L863.1,527.8 L863.2,526.3 L863.3,525.2 L863.4,524.2 L863.8,523.5 L864.4,522.9 L865.2,522.4 L866.0,522.0 L866.6,521.8 L867.2,521.6 L867.9,521.4 L868.5,521.3 L869.2,521.2 L870.0,521.2 L870.7,521.1 L871.5,521.1 L872.2,521.0 L873.0,521.0 L873.7,520.9 L874.5,520.9 L875.4,520.8 L876.4,520.8 L877.5,520.7 L878.5,520.7 L879.7,520.7 L880.9,520.6 L882.2,520.6 L883.5,520.6 L885.1,520.5 L886.8,520.5 L888.6,520.5 L890.5,520.4 L892.8,520.4 L895.3,520.4 L897.9,520.4 L900.5,520.3 L903.6,520.3 L906.8,520.3 L910.1,520.3 L913.5,520.3 L917.1,520.3 L920.8,520.3 L924.6,520.2 L928.5,520.2 L933.4,520.2 L938.5,520.2 L943.6,520.2 L948.5,520.2 L952.5,520.2 L956.3,520.1 L960.0,520.1 L963.5,520.1 L966.3,520.1 L969.0,520.1 L971.6,520.1 L974.1,520.1 L975.0,520.2 L975.7,520.4 L976.4,520.7 L976.9,521.0 L977.6,522.0 L978.1,523.6 L978.5,525.6 L979.0,527.9 L980.3,536.0 L981.7,547.3 L983.1,561.7 L984.5,579.0 L985.5,585.5 L985.5,586.8 L858.9,586.8Z" fill="url(#gR)"/>
<path d="M1100.7,586.7 L1101.5,580.3 L1102.8,562.6 L1103.9,548.1 L1104.8,536.9 L1105.4,529.4 L1105.5,527.8 L1105.6,526.3 L1105.7,525.2 L1105.9,524.2 L1106.3,523.5 L1106.9,522.9 L1107.7,522.4 L1108.5,522.0 L1109.1,521.8 L1109.7,521.6 L1110.4,521.4 L1111.0,521.3 L1111.7,521.2 L1112.5,521.2 L1113.2,521.1 L1114.0,521.1 L1114.7,521.0 L1115.5,521.0 L1116.2,520.9 L1117.0,520.9 L1117.9,520.8 L1118.9,520.8 L1120.0,520.7 L1121.0,520.7 L1122.2,520.7 L1123.4,520.6 L1124.7,520.6 L1126.0,520.6 L1127.6,520.5 L1129.3,520.5 L1131.1,520.5 L1133.0,520.4 L1135.3,520.4 L1137.8,520.4 L1140.4,520.4 L1143.0,520.3 L1146.1,520.3 L1149.3,520.3 L1152.6,520.3 L1156.0,520.3 L1159.6,520.3 L1163.3,520.3 L1167.1,520.2 L1171.0,520.2 L1175.9,520.2 L1181.0,520.2 L1186.1,520.2 L1191.0,520.2 L1195.0,520.2 L1198.8,520.1 L1202.5,520.1 L1206.0,520.1 L1208.9,520.1 L1211.7,520.1 L1214.5,520.1 L1217.1,520.1 L1217.9,520.2 L1218.7,520.4 L1219.3,520.7 L1219.9,521.0 L1220.5,522.0 L1221.0,523.6 L1221.4,525.6 L1221.9,527.9 L1223.3,536.0 L1224.6,547.3 L1226.0,561.7 L1227.3,579.0 L1228.3,585.5 L1228.3,586.8 L1100.7,586.8Z" fill="url(#gR)"/>
<path d="M1342.4,586.7 L1343.3,580.3 L1344.8,562.6 L1346.1,548.1 L1347.1,536.9 L1347.8,529.4 L1348.0,527.8 L1348.1,526.3 L1348.2,525.2 L1348.4,524.2 L1348.8,523.5 L1349.5,522.9 L1350.2,522.4 L1351.0,522.0 L1351.6,521.8 L1352.2,521.6 L1352.9,521.4 L1353.5,521.3 L1354.2,521.2 L1355.0,521.2 L1355.7,521.1 L1356.5,521.1 L1357.2,521.0 L1358.0,521.0 L1358.7,520.9 L1359.5,520.9 L1360.4,520.8 L1361.4,520.8 L1362.5,520.7 L1363.5,520.7 L1364.7,520.7 L1365.9,520.6 L1367.2,520.6 L1368.5,520.6 L1370.1,520.5 L1371.8,520.5 L1373.6,520.5 L1375.5,520.4 L1377.8,520.4 L1380.3,520.4 L1382.9,520.4 L1385.5,520.3 L1388.6,520.3 L1391.8,520.3 L1395.1,520.3 L1398.5,520.3 L1402.1,520.3 L1405.8,520.3 L1409.6,520.2 L1413.5,520.2 L1418.4,520.2 L1423.5,520.2 L1428.6,520.2 L1433.5,520.2 L1437.4,520.2 L1441.3,520.1 L1444.9,520.1 L1448.5,520.1 L1451.5,520.1 L1454.4,520.1 L1457.3,520.1 L1460.0,520.1 L1460.8,520.2 L1461.6,520.4 L1462.3,520.7 L1462.8,521.0 L1463.4,522.0 L1463.9,523.6 L1464.4,525.6 L1464.8,527.9 L1466.2,536.0 L1467.5,547.3 L1468.9,561.7 L1470.2,579.0 L1471.2,585.5 L1471.2,586.8 L1342.4,586.8Z" fill="url(#gR)"/>
<g transform="scale(1.18,1)"><path d="M419.92,584.2 L425.34,584.6 L430.77,584.9 L436.20,585.2 L441.63,585.4 L447.06,585.6 L452.48,585.8 L457.91,585.9 L463.34,586.1 L468.77,586.2 L474.20,586.3 L479.63,586.3 L485.05,586.4 L490.48,586.5 L495.91,586.5 L501.34,586.6 L506.77,586.6 L512.19,586.6 L517.62,586.7 L523.05,586.7 L523.05,586.7 L523.60,580.3 L524.39,562.6 L525.04,548.1 L525.55,536.9 L525.92,529.4 L525.99,527.8 L526.03,526.3 L526.09,525.2 L526.19,524.2 L526.48,523.5 L527.05,522.9 L527.74,522.4 L528.39,522.0 L528.90,521.8 L529.42,521.6 L529.96,521.4 L530.51,521.3 L531.12,521.2 L531.76,521.2 L532.41,521.1 L533.05,521.1 L533.68,521.0 L534.30,521.0 L534.93,520.9 L535.59,520.9 L536.40,520.8 L537.23,520.8 L538.10,520.7 L538.98,520.7 L539.99,520.7 L541.03,520.6 L542.10,520.6 L543.22,520.6 L544.61,520.5 L546.06,520.5 L547.57,520.5 L549.15,520.4 L551.14,520.4 L553.23,520.4 L555.40,520.4 L557.63,520.3 L560.26,520.3 L562.99,520.3 L565.80,520.3 L568.64,520.3 L571.72,520.3 L574.83,520.2 L578.03,520.2 L581.36,520.2 L585.48,520.2 L589.83,520.2 L594.18,520.2 L598.31,520.2 L601.67,520.2 L604.93,520.1 L608.06,520.1 L611.02,520.1 L613.33,520.1 L615.54,520.1 L617.65,520.1 L619.66,520.1 L620.36,520.2 L621.01,520.4 L621.58,520.7 L622.03,521.0 L622.57,522.0 L622.99,523.6 L623.37,525.6 L623.77,527.9 L624.94,536.0 L626.11,547.3 L627.28,561.7 L628.47,579.0 L629.32,585.5 L629.32,585.5 L634.51,585.7 L639.70,585.8 L644.89,586.0 L650.08,586.1 L655.27,586.2 L660.45,586.3 L665.64,586.4 L670.83,586.4 L676.02,586.5 L681.21,586.5 L686.40,586.6 L691.59,586.6 L696.78,586.6 L701.97,586.6 L707.15,586.7 L712.34,586.7 L717.53,586.7 L722.72,586.7 L727.91,586.7 L727.91,586.7 L728.53,580.3 L729.48,562.6 L730.27,548.1 L730.89,536.9 L731.35,529.4 L731.44,527.8 L731.50,526.3 L731.57,525.2 L731.69,524.2 L732.00,523.5 L732.57,522.9 L733.25,522.4 L733.90,522.0 L734.41,521.8 L734.93,521.6 L735.47,521.4 L736.02,521.3 L736.63,521.2 L737.27,521.2 L737.92,521.1 L738.56,521.1 L739.19,521.0 L739.81,521.0 L740.44,520.9 L741.10,520.9 L741.91,520.8 L742.74,520.8 L743.61,520.7 L744.49,520.7 L745.50,520.7 L746.54,520.6 L747.61,520.6 L748.73,520.6 L750.12,520.5 L751.57,520.5 L753.08,520.5 L754.66,520.4 L756.65,520.4 L758.73,520.4 L760.90,520.4 L763.14,520.3 L765.77,520.3 L768.50,520.3 L771.31,520.3 L774.15,520.3 L777.22,520.3 L780.34,520.3 L783.54,520.2 L786.86,520.2 L790.99,520.2 L795.34,520.2 L799.69,520.2 L803.81,520.2 L807.17,520.2 L810.42,520.1 L813.55,520.1 L816.53,520.1 L818.92,520.1 L821.22,520.1 L823.43,520.1 L825.54,520.1 L826.24,520.2 L826.89,520.4 L827.46,520.7 L827.91,521.0 L828.44,522.0 L828.86,523.6 L829.24,525.6 L829.64,527.9 L830.80,536.0 L831.96,547.3 L833.12,561.7 L834.29,579.0 L835.14,585.5 L835.14,585.5 L840.28,585.7 L845.42,585.8 L850.56,586.0 L855.69,586.1 L860.83,586.2 L865.97,586.3 L871.11,586.4 L876.25,586.4 L881.39,586.5 L886.52,586.5 L891.66,586.6 L896.80,586.6 L901.94,586.6 L907.08,586.6 L912.22,586.7 L917.35,586.7 L922.49,586.7 L927.63,586.7 L932.77,586.7 L932.77,586.7 L933.45,580.3 L934.57,562.6 L935.50,548.1 L936.23,536.9 L936.78,529.4 L936.89,527.8 L936.97,526.3 L937.06,525.2 L937.20,524.2 L937.53,523.5 L938.09,522.9 L938.77,522.4 L939.41,522.0 L939.92,521.8 L940.44,521.6 L940.98,521.4 L941.53,521.3 L942.14,521.2 L942.78,521.2 L943.43,521.1 L944.07,521.1 L944.69,521.0 L945.32,521.0 L945.95,520.9 L946.61,520.9 L947.41,520.8 L948.25,520.8 L949.11,520.7 L950.00,520.7 L951.01,520.7 L952.05,520.6 L953.12,520.6 L954.24,520.6 L955.62,520.5 L957.08,520.5 L958.59,520.5 L960.17,520.4 L962.15,520.4 L964.24,520.4 L966.41,520.4 L968.64,520.3 L971.28,520.3 L974.01,520.3 L976.82,520.3 L979.66,520.3 L982.73,520.3 L985.85,520.3 L989.05,520.2 L992.37,520.2 L996.49,520.2 L1000.85,520.2 L1005.20,520.2 L1009.32,520.2 L1012.67,520.2 L1015.91,520.1 L1019.04,520.1 L1022.03,520.1 L1024.51,520.1 L1026.90,520.1 L1029.20,520.1 L1031.41,520.1 L1032.11,520.2 L1032.76,520.4 L1033.33,520.7 L1033.79,521.0 L1034.31,522.0 L1034.74,523.6 L1035.11,525.6 L1035.51,527.9 L1036.66,536.0 L1037.81,547.3 L1038.96,561.7 L1040.12,579.0 L1040.96,585.5 L1040.96,585.5 L1046.05,585.7 L1051.14,585.8 L1056.22,586.0 L1061.31,586.1 L1066.40,586.2 L1071.49,586.3 L1076.57,586.3 L1081.66,586.4 L1086.75,586.5 L1091.84,586.5 L1096.93,586.6 L1102.01,586.6 L1107.10,586.6 L1112.19,586.6 L1117.28,586.7 L1122.36,586.7 L1127.45,586.7 L1132.54,586.7 L1137.63,586.7 L1137.63,586.7 L1138.37,580.3 L1139.65,562.6 L1140.72,548.1 L1141.57,536.9 L1142.21,529.4 L1142.34,527.8 L1142.43,526.3 L1142.54,525.2 L1142.71,524.2 L1143.05,523.5 L1143.61,522.9 L1144.28,522.4 L1144.92,522.0 L1145.43,521.8 L1145.95,521.6 L1146.48,521.4 L1147.03,521.3 L1147.65,521.2 L1148.29,521.2 L1148.93,521.1 L1149.58,521.1 L1150.20,521.0 L1150.83,521.0 L1151.46,520.9 L1152.12,520.9 L1152.92,520.8 L1153.76,520.8 L1154.62,520.7 L1155.51,520.7 L1156.52,520.7 L1157.55,520.6 L1158.63,520.6 L1159.75,520.6 L1161.13,520.5 L1162.58,520.5 L1164.10,520.5 L1165.68,520.4 L1167.66,520.4 L1169.75,520.4 L1171.92,520.4 L1174.15,520.3 L1176.78,520.3 L1179.52,520.3 L1182.33,520.3 L1185.17,520.3 L1188.24,520.3 L1191.36,520.3 L1194.56,520.2 L1197.88,520.2 L1202.00,520.2 L1206.36,520.2 L1210.71,520.2 L1214.83,520.2 L1218.17,520.2 L1221.41,520.1 L1224.53,520.1 L1227.54,520.1 L1230.10,520.1 L1232.57,520.1 L1234.97,520.1 L1237.29,520.1 L1237.99,520.2 L1238.64,520.4 L1239.21,520.7 L1239.66,521.0 L1240.19,522.0 L1240.61,523.6 L1240.98,525.6 L1241.38,527.9 L1242.52,536.0 L1243.66,547.3 L1244.80,561.7 L1245.94,579.0 L1246.78,585.5 L1246.78,585.5 L1251.74,585.7 L1256.71,585.8 L1261.67,586.0 L1266.64,586.1 L1271.60,586.2 L1276.57,586.3 L1281.53,586.3 L1286.49,586.4 L1291.46,586.5 L1296.42,586.5 L1301.39,586.5 L1306.35,586.6 L1311.32,586.6 L1316.28,586.6 L1321.24,586.7 L1326.21,586.7 L1331.17,586.7 L1336.14,586.7 L1341.10,586.7" fill="none" stroke="#e31a1c" stroke-width="11.4" stroke-linejoin="round"/></g>
<path d="M614.2,739.5 L614.9,735.6 L615.8,724.6 L616.6,715.8 L617.2,709.3 L617.7,705.2 L617.8,704.5 L617.8,704.0 L617.9,703.6 L618.0,703.1 L618.4,702.5 L619.1,701.9 L619.9,701.4 L620.6,700.9 L621.2,700.5 L621.8,700.2 L622.4,699.9 L623.1,699.6 L623.8,699.4 L624.6,699.3 L625.3,699.1 L626.1,699.0 L626.8,698.8 L627.6,698.7 L628.3,698.6 L629.1,698.5 L630.0,698.4 L631.0,698.2 L632.1,698.1 L633.1,698.0 L634.3,697.9 L635.5,697.8 L636.8,697.8 L638.1,697.7 L639.7,697.6 L641.4,697.5 L643.2,697.4 L645.1,697.3 L647.4,697.1 L649.9,697.0 L652.5,696.9 L655.1,696.8 L658.2,696.6 L661.4,696.5 L664.7,696.3 L668.1,696.2 L671.7,696.0 L675.4,695.9 L679.2,695.7 L683.1,695.5 L688.0,695.3 L693.1,695.1 L698.2,694.8 L703.1,694.6 L707.0,694.4 L710.9,694.3 L714.5,694.1 L718.1,694.0 L721.1,693.8 L724.1,693.7 L726.9,693.6 L729.7,693.5 L730.5,693.6 L731.3,693.8 L731.9,694.1 L732.5,694.4 L733.1,695.1 L733.6,696.1 L734.0,697.5 L734.5,699.0 L735.9,704.6 L737.2,712.5 L738.5,722.6 L739.8,734.9 L740.8,739.5 L740.8,739.5 L614.2,739.5Z" fill="url(#gG)"/>
<path d="M855.9,739.5 L856.7,735.6 L857.8,724.5 L858.7,715.6 L859.5,709.0 L860.1,704.9 L860.2,704.3 L860.3,703.7 L860.4,703.3 L860.5,702.8 L860.9,702.2 L861.6,701.6 L862.4,701.1 L863.1,700.6 L863.7,700.2 L864.3,699.9 L864.9,699.6 L865.6,699.3 L866.3,699.1 L867.1,699.0 L867.8,698.8 L868.6,698.7 L869.3,698.5 L870.1,698.4 L870.8,698.3 L871.6,698.2 L872.5,698.1 L873.5,697.9 L874.6,697.8 L875.6,697.7 L876.8,697.6 L878.0,697.5 L879.3,697.5 L880.6,697.4 L882.2,697.3 L883.9,697.2 L885.7,697.1 L887.6,697.0 L889.9,696.9 L892.4,696.7 L895.0,696.6 L897.6,696.5 L900.7,696.4 L903.9,696.2 L907.2,696.1 L910.6,695.9 L914.2,695.7 L917.9,695.6 L921.7,695.4 L925.6,695.2 L930.5,695.0 L935.6,694.8 L940.7,694.6 L945.6,694.3 L949.5,694.2 L953.3,694.0 L957.0,693.8 L960.6,693.7 L963.7,693.5 L966.8,693.4 L969.7,693.3 L972.6,693.2 L973.4,693.3 L974.2,693.5 L974.9,693.8 L975.4,694.1 L976.0,694.8 L976.5,695.9 L977.0,697.2 L977.4,698.8 L978.8,704.3 L980.1,712.3 L981.4,722.5 L982.7,734.9 L983.7,739.5 L983.7,739.5 L855.9,739.5Z" fill="url(#gG)"/>
<path d="M1097.7,739.5 L1098.5,735.5 L1099.8,724.4 L1100.9,715.4 L1101.8,708.8 L1102.5,704.7 L1102.6,704.0 L1102.7,703.4 L1102.8,703.0 L1103.0,702.5 L1103.4,701.9 L1104.1,701.3 L1104.9,700.8 L1105.6,700.3 L1106.2,699.9 L1106.8,699.6 L1107.4,699.3 L1108.1,699.0 L1108.8,698.8 L1109.6,698.7 L1110.3,698.5 L1111.1,698.4 L1111.8,698.2 L1112.6,698.1 L1113.3,698.0 L1114.1,697.9 L1115.0,697.8 L1116.0,697.6 L1117.1,697.5 L1118.1,697.4 L1119.3,697.3 L1120.5,697.2 L1121.8,697.2 L1123.1,697.1 L1124.7,697.0 L1126.4,696.9 L1128.2,696.8 L1130.1,696.7 L1132.4,696.6 L1134.9,696.4 L1137.5,696.3 L1140.1,696.2 L1143.2,696.1 L1146.4,695.9 L1149.7,695.8 L1153.1,695.6 L1156.7,695.5 L1160.4,695.3 L1164.2,695.1 L1168.1,694.9 L1173.0,694.7 L1178.1,694.5 L1183.2,694.3 L1188.1,694.1 L1192.0,693.9 L1195.8,693.7 L1199.5,693.5 L1203.1,693.4 L1206.3,693.3 L1209.5,693.1 L1212.6,693.0 L1215.6,692.9 L1216.4,693.0 L1217.1,693.2 L1217.8,693.5 L1218.4,693.8 L1219.0,694.5 L1219.4,695.6 L1219.9,696.9 L1220.4,698.5 L1221.7,704.1 L1223.0,712.1 L1224.3,722.4 L1225.6,734.8 L1226.5,739.5 L1226.5,739.5 L1097.7,739.5Z" fill="url(#gG)"/>
<path d="M1339.4,739.5 L1340.3,735.5 L1341.8,724.3 L1343.0,715.2 L1344.1,708.6 L1344.9,704.4 L1345.1,703.7 L1345.2,703.2 L1345.3,702.7 L1345.5,702.2 L1345.9,701.6 L1346.6,701.0 L1347.4,700.5 L1348.1,700.0 L1348.7,699.6 L1349.3,699.3 L1349.9,699.0 L1350.6,698.7 L1351.3,698.5 L1352.1,698.4 L1352.8,698.2 L1353.6,698.1 L1354.3,697.9 L1355.1,697.8 L1355.8,697.7 L1356.6,697.6 L1357.5,697.5 L1358.5,697.3 L1359.6,697.2 L1360.6,697.1 L1361.8,697.0 L1363.0,696.9 L1364.3,696.9 L1365.6,696.8 L1367.2,696.7 L1368.9,696.6 L1370.7,696.5 L1372.6,696.4 L1374.9,696.3 L1377.4,696.1 L1380.0,696.0 L1382.6,695.9 L1385.7,695.8 L1388.9,695.6 L1392.2,695.5 L1395.6,695.3 L1399.2,695.2 L1402.9,695.0 L1406.7,694.8 L1410.6,694.7 L1415.5,694.4 L1420.6,694.2 L1425.7,694.0 L1430.6,693.8 L1434.5,693.6 L1438.3,693.4 L1442.0,693.3 L1445.6,693.1 L1448.9,693.0 L1452.2,692.8 L1455.4,692.7 L1458.5,692.6 L1459.3,692.7 L1460.1,692.9 L1460.7,693.2 L1461.3,693.5 L1461.9,694.2 L1462.4,695.3 L1462.8,696.7 L1463.3,698.2 L1464.6,703.9 L1465.9,712.0 L1467.2,722.3 L1468.4,734.8 L1469.4,739.5 L1469.4,739.5 L1339.4,739.5Z" fill="url(#gG)"/>
<g transform="scale(1.18,1)"><path d="M419.92,739.5 L425.21,739.5 L430.50,739.5 L435.80,739.5 L441.09,739.5 L446.39,739.5 L451.68,739.5 L456.98,739.5 L462.27,739.5 L467.56,739.5 L472.86,739.5 L478.15,739.5 L483.45,739.5 L488.74,739.5 L494.04,739.5 L499.33,739.5 L504.63,739.5 L509.92,739.5 L515.21,739.5 L520.51,739.5 L520.51,739.5 L521.07,735.6 L521.86,724.6 L522.51,715.8 L523.04,709.3 L523.45,705.2 L523.52,704.5 L523.57,704.0 L523.64,703.6 L523.73,703.1 L524.05,702.5 L524.62,701.9 L525.30,701.4 L525.93,700.9 L526.45,700.5 L526.97,700.2 L527.50,699.9 L528.05,699.6 L528.66,699.4 L529.30,699.3 L529.95,699.1 L530.59,699.0 L531.22,698.8 L531.84,698.7 L532.47,698.6 L533.14,698.5 L533.94,698.4 L534.78,698.2 L535.64,698.1 L536.53,698.0 L537.53,697.9 L538.57,697.8 L539.64,697.8 L540.76,697.7 L542.15,697.6 L543.60,697.5 L545.12,697.4 L546.69,697.3 L548.68,697.1 L550.77,697.0 L552.94,696.9 L555.17,696.8 L557.80,696.6 L560.54,696.5 L563.34,696.3 L566.19,696.2 L569.26,696.0 L572.37,695.9 L575.57,695.7 L578.90,695.5 L583.02,695.3 L587.37,695.1 L591.73,694.8 L595.85,694.6 L599.19,694.4 L602.42,694.3 L605.54,694.1 L608.56,694.0 L611.13,693.8 L613.63,693.7 L616.05,693.6 L618.39,693.5 L619.08,693.6 L619.72,693.8 L620.28,694.1 L620.76,694.4 L621.26,695.1 L621.68,696.1 L622.07,697.5 L622.47,699.0 L623.60,704.6 L624.73,712.5 L625.85,722.6 L626.97,734.9 L627.80,739.5 L627.80,739.5 L632.93,739.5 L638.07,739.5 L643.20,739.5 L648.34,739.5 L653.47,739.5 L658.61,739.5 L663.74,739.5 L668.88,739.5 L674.01,739.5 L679.15,739.5 L684.28,739.5 L689.42,739.5 L694.56,739.5 L699.69,739.5 L704.83,739.5 L709.96,739.5 L715.10,739.5 L720.23,739.5 L725.37,739.5 L725.37,739.5 L725.99,735.6 L726.94,724.5 L727.73,715.6 L728.38,709.0 L728.88,704.9 L728.97,704.3 L729.04,703.7 L729.12,703.3 L729.24,702.8 L729.58,702.2 L730.15,701.6 L730.81,701.1 L731.44,700.6 L731.96,700.2 L732.47,699.9 L733.01,699.6 L733.56,699.3 L734.17,699.1 L734.81,699.0 L735.46,698.8 L736.10,698.7 L736.73,698.5 L737.35,698.4 L737.98,698.3 L738.64,698.2 L739.45,698.1 L740.28,697.9 L741.15,697.8 L742.03,697.7 L743.04,697.6 L744.08,697.5 L745.15,697.5 L746.27,697.4 L747.66,697.3 L749.11,697.2 L750.62,697.1 L752.20,697.0 L754.19,696.9 L756.28,696.7 L758.45,696.6 L760.68,696.5 L763.31,696.4 L766.05,696.2 L768.85,696.1 L771.69,695.9 L774.77,695.7 L777.88,695.6 L781.08,695.4 L784.41,695.2 L788.53,695.0 L792.88,694.8 L797.24,694.6 L801.36,694.3 L804.69,694.2 L807.91,694.0 L811.03,693.8 L814.07,693.7 L816.72,693.5 L819.31,693.4 L821.82,693.3 L824.27,693.2 L824.96,693.3 L825.59,693.5 L826.16,693.8 L826.64,694.1 L827.14,694.8 L827.56,695.9 L827.94,697.2 L828.34,698.8 L829.47,704.3 L830.58,712.3 L831.69,722.5 L832.79,734.9 L833.62,739.5 L833.62,739.5 L838.70,739.5 L843.79,739.5 L848.87,739.5 L853.95,739.5 L859.04,739.5 L864.12,739.5 L869.21,739.5 L874.29,739.5 L879.38,739.5 L884.46,739.5 L889.55,739.5 L894.63,739.5 L899.72,739.5 L904.80,739.5 L909.89,739.5 L914.97,739.5 L920.06,739.5 L925.14,739.5 L930.23,739.5 L930.23,739.5 L930.92,735.5 L932.02,724.4 L932.95,715.4 L933.71,708.8 L934.31,704.7 L934.42,704.0 L934.51,703.4 L934.61,703.0 L934.75,702.5 L935.10,701.9 L935.67,701.3 L936.33,700.8 L936.95,700.3 L937.46,699.9 L937.98,699.6 L938.52,699.3 L939.07,699.0 L939.68,698.8 L940.32,698.7 L940.97,698.5 L941.61,698.4 L942.24,698.2 L942.86,698.1 L943.49,698.0 L944.15,697.9 L944.96,697.8 L945.79,697.6 L946.66,697.5 L947.54,697.4 L948.55,697.3 L949.59,697.2 L950.66,697.2 L951.78,697.1 L953.17,697.0 L954.62,696.9 L956.13,696.8 L957.71,696.7 L959.70,696.6 L961.78,696.4 L963.96,696.3 L966.19,696.2 L968.82,696.1 L971.55,695.9 L974.36,695.8 L977.20,695.6 L980.28,695.5 L983.39,695.3 L986.59,695.1 L989.92,694.9 L994.04,694.7 L998.39,694.5 L1002.74,694.3 L1006.86,694.1 L1010.20,693.9 L1013.41,693.7 L1016.52,693.5 L1019.58,693.4 L1022.31,693.3 L1024.98,693.1 L1027.59,693.0 L1030.14,692.9 L1030.83,693.0 L1031.47,693.2 L1032.04,693.5 L1032.51,693.8 L1033.01,694.5 L1033.43,695.6 L1033.81,696.9 L1034.21,698.5 L1035.33,704.1 L1036.44,712.1 L1037.53,722.4 L1038.62,734.8 L1039.44,739.5 L1039.44,739.5 L1044.47,739.5 L1049.50,739.5 L1054.54,739.5 L1059.57,739.5 L1064.61,739.5 L1069.64,739.5 L1074.67,739.5 L1079.71,739.5 L1084.74,739.5 L1089.78,739.5 L1094.81,739.5 L1099.85,739.5 L1104.88,739.5 L1109.91,739.5 L1114.95,739.5 L1119.98,739.5 L1125.02,739.5 L1130.05,739.5 L1135.08,739.5 L1135.08,739.5 L1135.84,735.5 L1137.10,724.3 L1138.17,715.2 L1139.05,708.6 L1139.74,704.4 L1139.87,703.7 L1139.98,703.2 L1140.09,702.7 L1140.25,702.2 L1140.63,701.6 L1141.19,701.0 L1141.84,700.5 L1142.46,700.0 L1142.97,699.6 L1143.49,699.3 L1144.02,699.0 L1144.58,698.7 L1145.19,698.5 L1145.82,698.4 L1146.47,698.2 L1147.12,698.1 L1147.74,697.9 L1148.37,697.8 L1149.00,697.7 L1149.66,697.6 L1150.46,697.5 L1151.30,697.3 L1152.17,697.2 L1153.05,697.1 L1154.06,697.0 L1155.10,696.9 L1156.17,696.9 L1157.29,696.8 L1158.68,696.7 L1160.13,696.6 L1161.64,696.5 L1163.22,696.4 L1165.20,696.3 L1167.29,696.1 L1169.46,696.0 L1171.69,695.9 L1174.33,695.8 L1177.06,695.6 L1179.87,695.5 L1182.71,695.3 L1185.78,695.2 L1188.90,695.0 L1192.10,694.8 L1195.42,694.7 L1199.54,694.4 L1203.90,694.2 L1208.25,694.0 L1212.37,693.8 L1215.70,693.6 L1218.90,693.4 L1222.02,693.3 L1225.08,693.1 L1227.89,693.0 L1230.65,692.8 L1233.36,692.7 L1236.02,692.6 L1236.71,692.7 L1237.35,692.9 L1237.92,693.2 L1238.39,693.5 L1238.89,694.2 L1239.30,695.3 L1239.68,696.7 L1240.08,698.2 L1241.19,703.9 L1242.29,712.0 L1243.37,722.3 L1244.44,734.8 L1245.25,739.5 L1245.25,739.5 L1250.30,739.5 L1255.34,739.5 L1260.39,739.5 L1265.43,739.5 L1270.48,739.5 L1275.52,739.5 L1280.57,739.5 L1285.61,739.5 L1290.66,739.5 L1295.70,739.5 L1300.74,739.5 L1305.79,739.5 L1310.83,739.5 L1315.88,739.5 L1320.92,739.5 L1325.97,739.5 L1331.01,739.5 L1336.06,739.5 L1341.10,739.5" fill="none" stroke="#33a02c" stroke-width="11.0" stroke-linejoin="round"/></g>
<path d="M616.2,901.2 L616.9,896.3 L617.9,882.9 L618.7,871.9 L619.4,863.7 L619.8,858.3 L619.9,857.3 L620.0,856.5 L620.1,855.8 L620.2,855.1 L620.6,854.5 L621.3,853.9 L622.1,853.4 L622.8,852.9 L623.4,852.3 L624.0,851.7 L624.6,851.2 L625.3,850.7 L626.0,850.3 L626.8,849.9 L627.5,849.6 L628.3,849.3 L629.0,849.1 L629.8,848.8 L630.5,848.6 L631.3,848.4 L632.2,848.2 L633.2,848.0 L634.3,847.9 L635.3,847.7 L636.5,847.6 L637.7,847.4 L639.0,847.3 L640.3,847.2 L641.9,847.1 L643.6,847.0 L645.4,846.9 L647.3,846.8 L649.6,846.7 L652.1,846.6 L654.7,846.5 L657.3,846.4 L660.4,846.2 L663.6,846.1 L666.9,846.0 L670.3,845.9 L673.9,845.8 L677.6,845.6 L681.4,845.5 L685.3,845.4 L690.2,845.2 L695.3,845.0 L700.4,844.9 L705.3,844.7 L709.3,844.6 L713.1,844.4 L716.8,844.3 L720.3,844.2 L723.0,844.1 L725.5,844.0 L728.0,844.0 L730.3,843.9 L731.1,844.0 L731.9,844.2 L732.5,844.5 L733.1,844.8 L733.7,845.6 L734.3,847.0 L734.7,848.8 L735.2,850.8 L736.7,857.8 L738.2,867.7 L739.7,880.3 L741.3,895.5 L742.4,901.2 L742.4,901.2 L616.2,901.2Z" fill="url(#gB)"/>
<path d="M857.9,901.2 L858.7,896.3 L859.9,882.7 L860.9,871.7 L861.7,863.4 L862.3,858.0 L862.4,856.9 L862.5,856.1 L862.6,855.4 L862.7,854.7 L863.1,854.1 L863.8,853.5 L864.6,853.0 L865.3,852.5 L865.9,851.9 L866.5,851.3 L867.1,850.8 L867.8,850.3 L868.5,849.9 L869.3,849.5 L870.0,849.2 L870.8,848.9 L871.5,848.7 L872.3,848.4 L873.0,848.2 L873.8,848.0 L874.7,847.8 L875.7,847.6 L876.8,847.5 L877.8,847.3 L879.0,847.2 L880.2,847.0 L881.5,846.9 L882.8,846.8 L884.4,846.7 L886.1,846.6 L887.9,846.5 L889.8,846.4 L892.1,846.3 L894.6,846.2 L897.2,846.1 L899.8,846.0 L902.9,845.8 L906.1,845.7 L909.4,845.6 L912.8,845.5 L916.4,845.4 L920.1,845.3 L923.9,845.1 L927.8,845.0 L932.7,844.8 L937.8,844.7 L942.9,844.5 L947.8,844.3 L951.8,844.2 L955.6,844.0 L959.3,843.9 L962.8,843.8 L965.6,843.7 L968.2,843.6 L970.8,843.6 L973.2,843.5 L974.1,843.6 L974.8,843.8 L975.5,844.1 L976.0,844.4 L976.7,845.2 L977.2,846.6 L977.7,848.4 L978.2,850.4 L979.6,857.5 L981.1,867.4 L982.6,880.1 L984.2,895.4 L985.3,901.2 L985.3,901.2 L857.9,901.2Z" fill="url(#gB)"/>
<path d="M1099.7,901.2 L1100.5,896.2 L1101.9,882.6 L1103.0,871.5 L1104.0,863.1 L1104.7,857.6 L1104.8,856.6 L1104.9,855.7 L1105.0,855.0 L1105.2,854.3 L1105.6,853.7 L1106.3,853.1 L1107.1,852.6 L1107.8,852.1 L1108.4,851.5 L1109.0,850.9 L1109.6,850.4 L1110.3,849.9 L1111.0,849.5 L1111.8,849.1 L1112.5,848.8 L1113.3,848.5 L1114.0,848.3 L1114.8,848.0 L1115.5,847.8 L1116.3,847.6 L1117.2,847.4 L1118.2,847.2 L1119.3,847.1 L1120.3,846.9 L1121.5,846.8 L1122.7,846.6 L1124.0,846.5 L1125.3,846.4 L1126.9,846.3 L1128.6,846.2 L1130.4,846.1 L1132.3,846.0 L1134.6,845.9 L1137.1,845.8 L1139.7,845.7 L1142.3,845.6 L1145.4,845.4 L1148.6,845.3 L1151.9,845.2 L1155.3,845.1 L1158.9,845.0 L1162.6,844.9 L1166.4,844.7 L1170.3,844.6 L1175.2,844.4 L1180.3,844.3 L1185.4,844.1 L1190.3,843.9 L1194.3,843.8 L1198.1,843.7 L1201.8,843.5 L1205.3,843.4 L1208.2,843.3 L1210.9,843.2 L1213.6,843.2 L1216.2,843.1 L1217.0,843.2 L1217.7,843.4 L1218.4,843.7 L1219.0,844.0 L1219.6,844.9 L1220.1,846.3 L1220.6,848.0 L1221.1,850.1 L1222.5,857.2 L1224.0,867.2 L1225.5,880.0 L1227.1,895.4 L1228.1,901.2 L1228.1,901.2 L1099.7,901.2Z" fill="url(#gB)"/>
<path d="M1341.4,901.2 L1342.3,896.2 L1343.9,882.4 L1345.2,871.2 L1346.3,862.8 L1347.1,857.3 L1347.2,856.2 L1347.4,855.3 L1347.5,854.6 L1347.7,853.9 L1348.1,853.3 L1348.8,852.7 L1349.6,852.2 L1350.3,851.7 L1350.9,851.1 L1351.5,850.5 L1352.1,850.0 L1352.8,849.5 L1353.5,849.1 L1354.3,848.7 L1355.0,848.4 L1355.8,848.1 L1356.5,847.9 L1357.3,847.6 L1358.0,847.4 L1358.8,847.2 L1359.7,847.0 L1360.7,846.8 L1361.8,846.7 L1362.8,846.5 L1364.0,846.4 L1365.2,846.2 L1366.5,846.1 L1367.8,846.0 L1369.4,845.9 L1371.1,845.8 L1372.9,845.7 L1374.8,845.6 L1377.1,845.5 L1379.6,845.4 L1382.2,845.3 L1384.8,845.2 L1387.9,845.1 L1391.1,844.9 L1394.4,844.8 L1397.8,844.7 L1401.4,844.6 L1405.1,844.5 L1408.9,844.3 L1412.8,844.2 L1417.7,844.0 L1422.8,843.9 L1427.9,843.7 L1432.8,843.5 L1436.7,843.4 L1440.6,843.3 L1444.3,843.1 L1447.8,843.0 L1450.8,842.9 L1453.6,842.9 L1456.4,842.8 L1459.1,842.7 L1459.9,842.8 L1460.7,843.0 L1461.3,843.3 L1461.9,843.6 L1462.5,844.5 L1463.0,845.9 L1463.5,847.7 L1464.0,849.7 L1465.5,856.9 L1466.9,867.0 L1468.4,879.9 L1469.9,895.4 L1471.0,901.2 L1471.0,901.2 L1341.4,901.2Z" fill="url(#gB)"/>
<g transform="scale(1.18,1)"><path d="M419.92,901.2 L425.30,901.2 L430.68,901.2 L436.07,901.2 L441.45,901.2 L446.83,901.2 L452.22,901.2 L457.60,901.2 L462.98,901.2 L468.37,901.2 L473.75,901.2 L479.13,901.2 L484.52,901.2 L489.90,901.2 L495.29,901.2 L500.67,901.2 L506.05,901.2 L511.44,901.2 L516.82,901.2 L522.20,901.2 L522.20,901.2 L522.78,896.3 L523.62,882.9 L524.32,871.9 L524.88,863.7 L525.29,858.3 L525.37,857.3 L525.43,856.5 L525.49,855.8 L525.59,855.1 L525.91,854.5 L526.49,853.9 L527.17,853.4 L527.80,852.9 L528.32,852.3 L528.84,851.7 L529.36,851.2 L529.92,850.7 L530.52,850.3 L531.15,849.9 L531.81,849.6 L532.46,849.3 L533.08,849.1 L533.70,848.8 L534.34,848.6 L535.00,848.4 L535.80,848.2 L536.64,848.0 L537.50,847.9 L538.39,847.7 L539.40,847.6 L540.43,847.4 L541.51,847.3 L542.63,847.2 L544.01,847.1 L545.46,847.0 L546.98,846.9 L548.56,846.8 L550.54,846.7 L552.63,846.6 L554.80,846.5 L557.03,846.4 L559.67,846.2 L562.40,846.1 L565.21,846.0 L568.05,845.9 L571.12,845.8 L574.24,845.6 L577.44,845.5 L580.76,845.4 L584.88,845.2 L589.24,845.0 L593.59,844.9 L597.71,844.7 L601.08,844.6 L604.34,844.4 L607.47,844.3 L610.42,844.2 L612.70,844.1 L614.87,844.0 L616.94,844.0 L618.90,843.9 L619.59,844.0 L620.23,844.2 L620.80,844.5 L621.27,844.8 L621.81,845.6 L622.25,847.0 L622.65,848.8 L623.08,850.8 L624.33,857.8 L625.60,867.7 L626.91,880.3 L628.24,895.5 L629.15,901.2 L629.15,901.2 L634.31,901.2 L639.46,901.2 L644.61,901.2 L649.77,901.2 L654.92,901.2 L660.07,901.2 L665.22,901.2 L670.38,901.2 L675.53,901.2 L680.68,901.2 L685.84,901.2 L690.99,901.2 L696.14,901.2 L701.30,901.2 L706.45,901.2 L711.60,901.2 L716.76,901.2 L721.91,901.2 L727.06,901.2 L727.06,901.2 L727.70,896.3 L728.71,882.7 L729.55,871.7 L730.22,863.4 L730.72,858.0 L730.82,856.9 L730.89,856.1 L730.97,855.4 L731.10,854.7 L731.44,854.1 L732.01,853.5 L732.69,853.0 L733.31,852.5 L733.83,851.9 L734.34,851.3 L734.87,850.8 L735.42,850.3 L736.02,849.9 L736.66,849.5 L737.31,849.2 L737.97,848.9 L738.59,848.7 L739.21,848.4 L739.84,848.2 L740.51,848.0 L741.31,847.8 L742.15,847.6 L743.01,847.5 L743.90,847.3 L744.91,847.2 L745.94,847.0 L747.02,846.9 L748.14,846.8 L749.52,846.7 L750.97,846.6 L752.49,846.5 L754.07,846.4 L756.05,846.3 L758.14,846.2 L760.31,846.1 L762.54,846.0 L765.17,845.8 L767.91,845.7 L770.72,845.6 L773.56,845.5 L776.63,845.4 L779.75,845.3 L782.95,845.1 L786.27,845.0 L790.39,844.8 L794.75,844.7 L799.10,844.5 L803.22,844.3 L806.58,844.2 L809.84,844.0 L812.96,843.9 L815.93,843.8 L818.29,843.7 L820.55,843.6 L822.71,843.6 L824.77,843.5 L825.47,843.6 L826.11,843.8 L826.68,844.1 L827.15,844.4 L827.68,845.2 L828.12,846.6 L828.52,848.4 L828.95,850.4 L830.19,857.5 L831.46,867.4 L832.74,880.1 L834.06,895.4 L834.97,901.2 L834.97,901.2 L840.07,901.2 L845.18,901.2 L850.28,901.2 L855.38,901.2 L860.48,901.2 L865.59,901.2 L870.69,901.2 L875.79,901.2 L880.90,901.2 L886.00,901.2 L891.10,901.2 L896.20,901.2 L901.31,901.2 L906.41,901.2 L911.51,901.2 L916.61,901.2 L921.72,901.2 L926.82,901.2 L931.92,901.2 L931.92,901.2 L932.63,896.2 L933.79,882.6 L934.77,871.5 L935.56,863.1 L936.15,857.6 L936.27,856.6 L936.36,855.7 L936.46,855.0 L936.61,854.3 L936.96,853.7 L937.54,853.1 L938.20,852.6 L938.81,852.1 L939.34,851.5 L939.85,850.9 L940.38,850.4 L940.93,849.9 L941.53,849.5 L942.17,849.1 L942.82,848.8 L943.47,848.5 L944.10,848.3 L944.72,848.0 L945.35,847.8 L946.02,847.6 L946.82,847.4 L947.65,847.2 L948.52,847.1 L949.41,846.9 L950.41,846.8 L951.45,846.6 L952.52,846.5 L953.64,846.4 L955.03,846.3 L956.48,846.2 L958.00,846.1 L959.58,846.0 L961.56,845.9 L963.65,845.8 L965.82,845.7 L968.05,845.6 L970.68,845.4 L973.42,845.3 L976.22,845.2 L979.07,845.1 L982.14,845.0 L985.26,844.9 L988.46,844.7 L991.78,844.6 L995.90,844.4 L1000.25,844.3 L1004.61,844.1 L1008.73,843.9 L1012.08,843.8 L1015.33,843.7 L1018.45,843.5 L1021.44,843.4 L1023.88,843.3 L1026.23,843.2 L1028.49,843.2 L1030.65,843.1 L1031.34,843.2 L1031.99,843.4 L1032.55,843.7 L1033.02,844.0 L1033.56,844.9 L1033.99,846.3 L1034.39,848.0 L1034.82,850.1 L1036.05,857.2 L1037.31,867.2 L1038.58,880.0 L1039.89,895.4 L1040.79,901.2 L1040.79,901.2 L1045.84,901.2 L1050.90,901.2 L1055.95,901.2 L1061.00,901.2 L1066.05,901.2 L1071.10,901.2 L1076.16,901.2 L1081.21,901.2 L1086.26,901.2 L1091.31,901.2 L1096.36,901.2 L1101.42,901.2 L1106.47,901.2 L1111.52,901.2 L1116.57,901.2 L1121.62,901.2 L1126.68,901.2 L1131.73,901.2 L1136.78,901.2 L1136.78,901.2 L1137.55,896.2 L1138.88,882.4 L1139.99,871.2 L1140.89,862.8 L1141.58,857.3 L1141.72,856.2 L1141.83,855.3 L1141.95,854.6 L1142.12,853.9 L1142.48,853.3 L1143.06,852.7 L1143.71,852.2 L1144.32,851.7 L1144.85,851.1 L1145.36,850.5 L1145.88,850.0 L1146.44,849.5 L1147.04,849.1 L1147.68,848.7 L1148.33,848.4 L1148.98,848.1 L1149.60,847.9 L1150.23,847.6 L1150.86,847.4 L1151.53,847.2 L1152.33,847.0 L1153.16,846.8 L1154.03,846.7 L1154.92,846.5 L1155.92,846.4 L1156.96,846.2 L1158.03,846.1 L1159.15,846.0 L1160.54,845.9 L1161.99,845.8 L1163.51,845.7 L1165.08,845.6 L1167.07,845.5 L1169.16,845.4 L1171.33,845.3 L1173.56,845.2 L1176.19,845.1 L1178.93,844.9 L1181.73,844.8 L1184.58,844.7 L1187.65,844.6 L1190.76,844.5 L1193.96,844.3 L1197.29,844.2 L1201.41,844.0 L1205.76,843.9 L1210.12,843.7 L1214.24,843.5 L1217.58,843.4 L1220.82,843.3 L1223.94,843.1 L1226.95,843.0 L1229.47,842.9 L1231.90,842.9 L1234.26,842.8 L1236.53,842.7 L1237.22,842.8 L1237.86,843.0 L1238.43,843.3 L1238.90,843.6 L1239.43,844.5 L1239.87,845.9 L1240.26,847.7 L1240.69,849.7 L1241.91,856.9 L1243.16,867.0 L1244.42,879.9 L1245.71,895.4 L1246.61,901.2 L1246.61,901.2 L1251.58,901.2 L1256.56,901.2 L1261.53,901.2 L1266.50,901.2 L1271.48,901.2 L1276.45,901.2 L1281.42,901.2 L1286.40,901.2 L1291.37,901.2 L1296.34,901.2 L1301.32,901.2 L1306.29,901.2 L1311.26,901.2 L1316.24,901.2 L1321.21,901.2 L1326.18,901.2 L1331.16,901.2 L1336.13,901.2 L1341.10,901.2" fill="none" stroke="#1f78b4" stroke-width="10.4" stroke-linejoin="round"/></g>
</g>
<rect x="497.5" y="271.9" width="1083.0" height="4.8" fill="#060606"/>
<rect x="497.5" y="433.1" width="1083.0" height="4.7" fill="#060606"/>
<rect x="497.5" y="590.2" width="1083.0" height="3.5" fill="#060606"/>
<rect x="497.5" y="746.2" width="1083.0" height="4.6" fill="#060606"/>
<rect x="497.5" y="36.5" width="1083.0" height="866.0" fill="none" stroke="#000" stroke-width="3"/>
<rect x="618.4" y="262.1" width="5.8" height="10.3" fill="#0a0a0a"/>
<rect x="738.7" y="254.7" width="5.8" height="17.7" fill="#0a0a0a"/>
<rect x="859.0" y="262.1" width="5.8" height="10.3" fill="#0a0a0a"/>
<rect x="979.2" y="254.7" width="5.8" height="17.7" fill="#0a0a0a"/>
<rect x="1099.5" y="262.1" width="5.8" height="10.3" fill="#0a0a0a"/>
<rect x="1219.8" y="254.7" width="5.8" height="17.7" fill="#0a0a0a"/>
<rect x="1340.1" y="262.1" width="5.8" height="10.3" fill="#0a0a0a"/>
<rect x="1460.4" y="254.7" width="5.8" height="17.7" fill="#0a0a0a"/>
<rect x="618.4" y="423.3" width="5.8" height="10.3" fill="#0a0a0a"/>
<rect x="738.7" y="415.9" width="5.8" height="17.7" fill="#0a0a0a"/>
<rect x="859.0" y="423.3" width="5.8" height="10.3" fill="#0a0a0a"/>
<rect x="979.2" y="415.9" width="5.8" height="17.7" fill="#0a0a0a"/>
<rect x="1099.5" y="423.3" width="5.8" height="10.3" fill="#0a0a0a"/>
<rect x="1219.8" y="415.9" width="5.8" height="17.7" fill="#0a0a0a"/>
<rect x="1340.1" y="423.3" width="5.8" height="10.3" fill="#0a0a0a"/>
<rect x="1460.4" y="415.9" width="5.8" height="17.7" fill="#0a0a0a"/>
<rect x="618.4" y="580.4" width="5.8" height="10.3" fill="#0a0a0a"/>
<rect x="738.7" y="573.0" width="5.8" height="17.7" fill="#0a0a0a"/>
<rect x="859.0" y="580.4" width="5.8" height="10.3" fill="#0a0a0a"/>
<rect x="979.2" y="573.0" width="5.8" height="17.7" fill="#0a0a0a"/>
<rect x="1099.5" y="580.4" width="5.8" height="10.3" fill="#0a0a0a"/>
<rect x="1219.8" y="573.0" width="5.8" height="17.7" fill="#0a0a0a"/>
<rect x="1340.1" y="580.4" width="5.8" height="10.3" fill="#0a0a0a"/>
<rect x="1460.4" y="573.0" width="5.8" height="17.7" fill="#0a0a0a"/>
<rect x="618.4" y="736.4" width="5.8" height="10.3" fill="#0a0a0a"/>
<rect x="738.7" y="729.0" width="5.8" height="17.7" fill="#0a0a0a"/>
<rect x="859.0" y="736.4" width="5.8" height="10.3" fill="#0a0a0a"/>
<rect x="979.2" y="729.0" width="5.8" height="17.7" fill="#0a0a0a"/>
<rect x="1099.5" y="736.4" width="5.8" height="10.3" fill="#0a0a0a"/>
<rect x="1219.8" y="729.0" width="5.8" height="17.7" fill="#0a0a0a"/>
<rect x="1340.1" y="736.4" width="5.8" height="10.3" fill="#0a0a0a"/>
<rect x="1460.4" y="729.0" width="5.8" height="17.7" fill="#0a0a0a"/>
<rect x="618.4" y="892.9" width="5.8" height="8.5" fill="#0a0a0a"/>
<rect x="738.7" y="885.5" width="5.8" height="15.899999999999999" fill="#0a0a0a"/>
<rect x="859.0" y="892.9" width="5.8" height="8.5" fill="#0a0a0a"/>
<rect x="979.2" y="885.5" width="5.8" height="15.899999999999999" fill="#0a0a0a"/>
<rect x="1099.5" y="892.9" width="5.8" height="8.5" fill="#0a0a0a"/>
<rect x="1219.8" y="885.5" width="5.8" height="15.899999999999999" fill="#0a0a0a"/>
<rect x="1340.1" y="892.9" width="5.8" height="8.5" fill="#0a0a0a"/>
<rect x="1460.4" y="885.5" width="5.8" height="15.899999999999999" fill="#0a0a0a"/>
<rect x="498.5" y="56.9" width="8.5" height="3" fill="#000"/>
<rect x="498.5" y="116.1" width="14.5" height="3" fill="#000"/>
<rect x="498.5" y="176.0" width="8.5" height="3" fill="#000"/>
<rect x="498.5" y="234.1" width="14.5" height="3" fill="#000"/>
<rect x="498.5" y="310.0" width="8.5" height="3" fill="#000"/>
<rect x="498.5" y="351.7" width="14.5" height="3" fill="#000"/>
<rect x="498.5" y="393.2" width="8.5" height="3" fill="#000"/>
<rect x="498.5" y="469.3" width="8.5" height="3" fill="#000"/>
<rect x="498.5" y="508.9" width="14.5" height="3" fill="#000"/>
<rect x="498.5" y="549.7" width="8.5" height="3" fill="#000"/>
<rect x="498.5" y="628.1" width="8.5" height="3" fill="#000"/>
<rect x="498.5" y="667.0" width="14.5" height="3" fill="#000"/>
<rect x="498.5" y="706.2" width="8.5" height="3" fill="#000"/>
<rect x="498.5" y="782.5" width="8.5" height="3" fill="#000"/>
<rect x="498.5" y="821.9" width="14.5" height="3" fill="#000"/>
<rect x="498.5" y="861.8" width="8.5" height="3" fill="#000"/>
<g font-family='"Liberation Serif", serif'>
<g transform="translate(299.4,52.0) scale(1.05,1)"><text font-size="53" fill="#000" text-anchor="middle" stroke="#000" stroke-width="0.3">(</text></g>
<g transform="translate(347.1,52.0) scale(1.05,1)"><text font-size="53" fill="#000" text-anchor="middle" stroke="#000" stroke-width="0.3">)</text></g>
<g transform="translate(323.0,51.7) scale(1.2,1)"><text font-size="44" fill="#000" text-anchor="middle" stroke="#000" stroke-width="0.3">a</text></g>
<g transform="translate(395.3,133.2) scale(1.07,1)"><text font-size="48" fill="#000" stroke="#000" stroke-width="0.3" textLength="76.5" lengthAdjust="spacing">475</text></g>
<g transform="translate(395.3,250.8) scale(1.07,1)"><text font-size="48" fill="#000" stroke="#000" stroke-width="0.3" textLength="76.5" lengthAdjust="spacing">380</text></g>
<g transform="translate(425.0,367.4) scale(1.07,1)"><text font-size="48" fill="#000" stroke="#000" stroke-width="0.3" textLength="48.7" lengthAdjust="spacing">14</text></g>
<g transform="translate(463.8,450.6) scale(1.06,1)"><text font-size="48" fill="#000" text-anchor="middle" stroke="#000" stroke-width="0.3">0</text></g>
<g transform="translate(422.9,526.0) scale(1.07,1)"><text font-size="48" fill="#000" stroke="#000" stroke-width="0.3" textLength="50.7" lengthAdjust="spacing">36</text></g>
<g transform="translate(463.2,607.0) scale(1.06,1)"><text font-size="48" fill="#000" text-anchor="middle" stroke="#000" stroke-width="0.3">0</text></g>
<g transform="translate(379.3,684.0) scale(1.07,1)"><text font-size="48" fill="#000" stroke="#000" stroke-width="0.3" textLength="91.5" lengthAdjust="spacing">0.96</text></g>
<g transform="translate(463.2,763.0) scale(1.06,1)"><text font-size="48" fill="#000" text-anchor="middle" stroke="#000" stroke-width="0.3">0</text></g>
<g transform="translate(379.3,840.0) scale(1.07,1)"><text font-size="48" fill="#000" stroke="#000" stroke-width="0.3" textLength="91.5" lengthAdjust="spacing">0.66</text></g>
<g transform="translate(463.2,919.0) scale(1.06,1)"><text font-size="48" fill="#000" text-anchor="middle" stroke="#000" stroke-width="0.3">0</text></g>
<g transform="translate(1346.9,88.6) scale(1.07,1)"><text font-size="48" fill="#000" stroke="#000" stroke-width="0.3" textLength="90.4" lengthAdjust="spacing">23.5</text></g>
<g transform="translate(1465.8,88.6) scale(1.2,1)"><text font-size="48" fill="#000" stroke="#000" stroke-width="0.3" textLength="88.1" lengthAdjust="spacing">GPa</text></g>
<g transform="translate(1349.2,330.9) scale(1.07,1)"><text font-size="48" fill="#000" stroke="#000" stroke-width="0.3" textLength="88.3" lengthAdjust="spacing">15.1</text></g>
<g transform="translate(1465.8,330.9) scale(1.2,1)"><text font-size="48" fill="#000" stroke="#000" stroke-width="0.3" textLength="88.1" lengthAdjust="spacing">GPa</text></g>
<g transform="translate(1375.2,488.6) scale(1.07,1)"><text font-size="48" fill="#000" stroke="#000" stroke-width="0.3" textLength="64.0" lengthAdjust="spacing">7.6</text></g>
<g transform="translate(1465.8,488.6) scale(1.2,1)"><text font-size="48" fill="#000" stroke="#000" stroke-width="0.3" textLength="88.1" lengthAdjust="spacing">GPa</text></g>
<g transform="translate(1373.7,643.8) scale(1.07,1)"><text font-size="48" fill="#000" stroke="#000" stroke-width="0.3" textLength="65.4" lengthAdjust="spacing">4.2</text></g>
<g transform="translate(1465.8,643.8) scale(1.2,1)"><text font-size="48" fill="#000" stroke="#000" stroke-width="0.3" textLength="88.1" lengthAdjust="spacing">GPa</text></g>
<g transform="translate(1374.6,803.6) scale(1.07,1)"><text font-size="48" fill="#000" stroke="#000" stroke-width="0.3" textLength="64.5" lengthAdjust="spacing">0.6</text></g>
<g transform="translate(1465.8,803.6) scale(1.2,1)"><text font-size="48" fill="#000" stroke="#000" stroke-width="0.3" textLength="88.1" lengthAdjust="spacing">GPa</text></g>
<g transform="translate(497.7,957.6) scale(1.06,1)"><text font-size="48" fill="#000" text-anchor="middle" stroke="#000" stroke-width="0.3">0</text></g>
<g transform="translate(710.5,957.6) scale(1.07,1)"><text font-size="48" fill="#000" stroke="#000" stroke-width="0.3" textLength="50.6" lengthAdjust="spacing">60</text></g>
<g transform="translate(939.9,957.6) scale(1.07,1)"><text font-size="48" fill="#000" stroke="#000" stroke-width="0.3" textLength="74.4" lengthAdjust="spacing">120</text></g>
<g transform="translate(1181.3,957.6) scale(1.07,1)"><text font-size="48" fill="#000" stroke="#000" stroke-width="0.3" textLength="75.0" lengthAdjust="spacing">180</text></g>
<g transform="translate(1420.1,957.6) scale(1.07,1)"><text font-size="48" fill="#000" stroke="#000" stroke-width="0.3" textLength="80.0" lengthAdjust="spacing">240</text></g>
<g transform="translate(951.4,1030.4) scale(1.2,1)"><text font-size="48" fill="#000" stroke="#000" stroke-width="0.3" textLength="104.1" lengthAdjust="spacing">Time</text></g>
<line x1="1081.8" y1="1041.4" x2="1100.0" y2="994.4" stroke="#000" stroke-width="3.0" stroke-linecap="butt"/>
<g transform="translate(1115.2,1030.4) scale(1.12,1)"><text font-size="48" fill="#000" text-anchor="middle" stroke="#000" stroke-width="0.3">s</text></g>
<g transform="translate(328.0,0) rotate(-90)">
<g transform="translate(-679.5,0.0) scale(1.2,1)"><text font-size="48" fill="#000" stroke="#000" stroke-width="0.3" textLength="264.2" lengthAdjust="spacing">Photocurrent</text></g>
<line x1="-353.9" y1="11.6" x2="-335.7" y2="-35.6" stroke="#000" stroke-width="3.0" stroke-linecap="butt"/>
<g transform="translate(-329.2,0.0) scale(1.16357437741377,1)"><text font-size="48" fill="#000" stroke="#000" stroke-width="0.3" textLength="58.7" lengthAdjust="spacing">nA</text></g>
</g>
</g>
<path d="M1950.7,780.0 L1955.0,780.0 L1959.1,780.0 L1963.0,780.0 L1966.7,780.0 L1970.2,780.0 L1973.5,780.0 L1976.7,780.0 L1979.6,780.0 L1982.5,780.1 L1985.2,780.1 L1987.7,780.1 L1990.1,780.1 L1992.4,780.1 L1994.6,780.1 L1996.6,780.1 L1998.6,780.2 L2000.4,780.2 L2002.2,780.2 L2003.8,780.2 L2005.4,780.2 L2006.9,780.2 L2008.4,780.2 L2009.8,780.2 L2011.1,780.3 L2012.4,780.3 L2013.7,780.3 L2015.0,780.3 L2016.2,780.3 L2017.4,780.3 L2018.6,780.3 L2019.8,780.3 L2021.0,780.3 L2022.2,780.3 L2023.4,780.3 L2024.5,780.3 L2025.7,780.3 L2026.9,780.3 L2028.0,780.3 L2029.2,780.3 L2030.4,780.3 L2031.5,780.3 L2032.7,780.2 L2033.9,780.2 L2035.1,780.2 L2036.2,780.2 L2037.4,780.2 L2038.6,780.2 L2039.8,780.2 L2041.0,780.2 L2042.2,780.2 L2043.4,780.1 L2044.6,780.1 L2045.9,780.1 L2047.1,780.1 L2048.4,780.1 L2049.6,780.1 L2050.9,780.1 L2052.2,780.1 L2053.5,780.1 L2054.8,780.1 L2056.2,780.0 L2057.5,780.0 L2058.9,780.0 L2060.3,780.0 L2061.6,780.0 L2063.0,780.0 L2064.4,779.9 L2065.8,779.9 L2067.2,779.9 L2068.7,779.8 L2070.1,779.8 L2071.5,779.7 L2073.0,779.7 L2074.4,779.6 L2075.9,779.5 L2077.3,779.5 L2078.8,779.4 L2080.2,779.3 L2081.7,779.2 L2083.1,779.0 L2084.6,778.9 L2086.1,778.8 L2087.5,778.6 L2089.0,778.4 L2090.4,778.3 L2091.9,778.1 L2093.3,777.9 L2094.8,777.6 L2096.3,777.4 L2097.7,777.1 L2099.1,776.7 L2100.6,776.4 L2102.0,775.9 L2103.5,775.5 L2104.9,774.9 L2106.4,774.3 L2107.8,773.6 L2109.3,772.9 L2110.8,772.0 L2112.2,771.1 L2113.7,770.1 L2115.1,769.0 L2116.6,767.7 L2118.1,766.4 L2119.6,765.0 L2121.1,763.4 L2122.5,761.7 L2124.0,759.8 L2125.5,757.9 L2127.0,755.7 L2128.6,753.5 L2130.1,751.1 L2131.6,748.5 L2133.2,745.7 L2134.7,742.8 L2136.3,739.7 L2137.8,736.5 L2139.4,733.0 L2141.0,729.5 L2142.5,725.8 L2144.1,721.9 L2145.7,718.0 L2147.3,713.8 L2149.0,709.6 L2150.6,705.2 L2152.2,700.7 L2153.8,696.2 L2155.5,691.5 L2157.1,686.7 L2158.8,681.8 L2160.4,676.8 L2162.1,671.7 L2163.7,666.6 L2165.4,661.3 L2167.1,656.0 L2168.7,650.7 L2170.4,645.2 L2172.1,639.8 L2173.8,634.2 L2175.5,628.7 L2177.2,623.0 L2178.9,617.4 L2180.6,611.7 L2182.3,606.0 L2184.0,600.3 L2185.7,594.6 L2187.4,588.8 L2189.1,583.1 L2190.8,577.4 L2192.5,571.8 L2194.2,566.2 L2195.9,560.6 L2197.6,555.1 L2199.3,549.6 L2201.0,544.3 L2202.7,539.0 L2204.4,533.8 L2206.1,528.7 L2207.8,523.7 L2209.5,518.8 L2211.2,514.1 L2212.9,509.5 L2214.6,505.0 L2216.3,500.7 L2218.0,496.6 L2219.7,492.6 L2221.4,488.8 L2223.1,485.2 L2224.7,481.8 L2226.4,478.7 L2228.1,475.7 L2229.7,472.9 L2231.4,470.4 L2233.1,468.1 L2234.7,466.0 L2236.4,464.1 L2238.0,462.3 L2239.7,460.8 L2241.3,459.4 L2242.9,458.2 L2244.6,457.1 L2246.2,456.2 L2247.9,455.4 L2249.5,454.7 L2251.2,454.2 L2252.8,453.8 L2254.5,453.5 L2256.1,453.3 L2257.8,453.2 L2259.5,453.1 L2261.1,453.2 L2262.8,453.3 L2264.5,453.5 L2266.2,453.7 L2267.9,454.0 L2269.6,454.3 L2271.3,454.6 L2273.0,455.0 L2274.7,455.3 L2276.5,455.7 L2278.2,456.1 L2280.0,456.5 L2281.8,456.9 L2283.5,457.2 L2285.3,457.6 L2287.1,458.0 L2288.9,458.4 L2290.7,458.8 L2292.6,459.2 L2294.4,459.6 L2296.2,460.1 L2298.1,460.5 L2299.9,460.9 L2301.8,461.4 L2303.6,461.8 L2305.5,462.3 L2307.4,462.7 L2309.3,463.2 L2311.2,463.7 L2313.1,464.2 L2315.0,464.7 L2316.9,465.3 L2318.8,465.8 L2320.8,466.4 L2322.7,466.9 L2324.6,467.5 L2326.6,468.1 L2328.5,468.7 L2330.5,469.4 L2332.5,470.0 L2334.4,470.7 L2336.4,471.4 L2338.4,472.2 L2340.4,472.9 L2342.3,473.8 L2344.3,474.6 L2346.3,475.6 L2348.3,476.6 L2350.3,477.6 L2352.4,478.7 L2354.4,479.9 L2356.4,481.2 L2358.4,482.5 L2360.4,484.0 L2362.5,485.5 L2364.5,487.1 L2366.6,488.8 L2368.6,490.6 L2370.7,492.5 L2372.7,494.6 L2374.8,496.7 L2376.8,499.0 L2378.9,501.4 L2381.0,503.9 L2383.0,506.6 L2385.1,509.4 L2387.2,512.4 L2389.3,515.5 L2391.4,518.7 L2393.5,522.0 L2395.6,525.5 L2397.7,529.0 L2399.8,532.7 L2401.9,536.4 L2404.0,540.2 L2406.2,544.0 L2408.3,547.9 L2410.4,551.8 L2412.6,555.8 L2414.8,559.8 L2416.9,563.7 L2419.1,567.7 L2421.3,571.6 L2423.5,575.6 L2425.7,579.5 L2427.9,583.3 L2430.2,587.1 L2432.4,590.8 L2434.7,594.4 L2437.0,598.0 L2439.3,601.4 L2441.6,604.7 L2443.9,607.9 L2446.2,611.0 L2448.6,613.9 L2450.9,616.7 L2453.3,619.3 L2455.7,621.8 L2458.1,624.2 L2460.6,626.4 L2463.0,628.5 L2465.5,630.4 L2467.9,632.2 L2470.4,633.9 L2472.9,635.5 L2475.4,637.0 L2478.0,638.4 L2480.5,639.6 L2483.1,640.8 L2485.6,641.8 L2488.2,642.8 L2490.8,643.7 L2493.4,644.5 L2496.0,645.2 L2498.7,645.9 L2501.3,646.5 L2504.0,647.0 L2506.7,647.4 L2509.3,647.8 L2512.0,648.2 L2514.8,648.5 L2517.5,648.7 L2520.2,648.9 L2522.9,649.1 L2525.7,649.2 L2528.5,649.3 L2531.2,649.3 L2534.0,649.4 L2536.8,649.3 L2539.6,649.3 L2542.4,649.1 L2545.2,649.0 L2548.0,648.7 L2550.9,648.5 L2553.7,648.2 L2556.5,647.8 L2559.4,647.4 L2562.2,646.9 L2565.1,646.3 L2567.9,645.7 L2570.8,645.1 L2573.7,644.4 L2576.5,643.6 L2579.4,642.7 L2582.3,641.8 L2585.2,640.8 L2588.0,639.7 L2590.9,638.6 L2593.8,637.4 L2596.7,636.1 L2599.5,634.8 L2602.4,633.4 L2605.3,631.8 L2608.2,630.2 L2611.0,628.6 L2613.9,626.8 L2616.8,624.9 L2619.7,623.0 L2622.7,621.0 L2625.6,618.8 L2628.5,616.6 L2631.5,614.3 L2634.5,611.8 L2637.5,609.3 L2640.6,606.6 L2643.7,603.9 L2646.8,601.0 L2649.9,598.0 L2653.1,594.9 L2656.4,591.6 L2659.6,588.3 L2663.0,584.8 L2666.3,581.2 L2669.7,577.4 L2673.2,573.6 L2676.7,569.6 L2680.3,565.4 L2684.0,561.1 L2687.7,556.7 L2691.4,552.1 L2695.3,547.4 L2699.2,542.5 L2703.2,537.4 L2707.3,531.9 L2711.4,526.1 L2715.7,519.9 L2720.1,513.1 L2724.6,505.9 L2729.1,498.0 L2733.9,489.4 L2738.7,480.1 L2743.7,470.0 L2748.8,459.1 L2754.1,447.2 L2759.5,434.3 L2765.1,420.4 L2770.8,405.4 L2776.8,389.2 L2782.9,371.8 L2789.2,353.1 L2795.6,333.0 L2802.3,311.5 L2809.2,288.6 L2816.3,264.1 L2823.6,238.0 L2831.1,210.2 L2838.9,180.7 L2846.9,149.4 L2855.1,116.3" fill="none" stroke="#f03a3a" stroke-width="4.5" stroke-linejoin="round"/>
<path d="M1950.7,747.0 L1980.2,796.5 L1921.2,796.5Z" fill="#fff" stroke="#f03a3a" stroke-width="2.3" stroke-linejoin="miter"/>
<path d="M1950.7,745.5 L1971.7,780.5 L1929.7,780.5Z" fill="#f03a3a"/>
<path d="M1992.5,747.0 L2022.0,796.5 L1963.0,796.5Z" fill="#fff" stroke="#f03a3a" stroke-width="2.3" stroke-linejoin="miter"/>
<path d="M1992.5,745.5 L2013.5,780.5 L1971.5,780.5Z" fill="#f03a3a"/>
<path d="M2018.0,747.5 L2047.5,797.0 L1988.5,797.0Z" fill="#fff" stroke="#f03a3a" stroke-width="2.3" stroke-linejoin="miter"/>
<path d="M2018.0,746.0 L2039.0,781.0 L1997.0,781.0Z" fill="#f03a3a"/>
<path d="M2049.0,747.0 L2078.5,796.5 L2019.5,796.5Z" fill="#fff" stroke="#f03a3a" stroke-width="2.3" stroke-linejoin="miter"/>
<path d="M2049.0,745.5 L2070.0,780.5 L2028.0,780.5Z" fill="#f03a3a"/>
<path d="M2091.5,747.0 L2121.0,796.5 L2062.0,796.5Z" fill="#fff" stroke="#f03a3a" stroke-width="2.3" stroke-linejoin="miter"/>
<path d="M2091.5,745.5 L2112.5,780.5 L2070.5,780.5Z" fill="#f03a3a"/>
<path d="M2132.0,736.0 L2161.5,785.5 L2102.5,785.5Z" fill="#fff" stroke="#f03a3a" stroke-width="2.3" stroke-linejoin="miter"/>
<path d="M2132.0,734.5 L2153.0,769.5 L2111.0,769.5Z" fill="#f03a3a"/>
<path d="M2179.4,585.3 L2208.9,634.8 L2149.9,634.8Z" fill="#fff" stroke="#f03a3a" stroke-width="2.3" stroke-linejoin="miter"/>
<path d="M2179.4,583.8 L2200.4,618.8 L2158.4,618.8Z" fill="#f03a3a"/>
<path d="M2228.7,412.1 L2258.2,461.6 L2199.2,461.6Z" fill="#fff" stroke="#f03a3a" stroke-width="2.3" stroke-linejoin="miter"/>
<path d="M2228.7,410.6 L2249.7,445.6 L2207.7,445.6Z" fill="#f03a3a"/>
<path d="M2274.3,422.4 L2303.8,471.9 L2244.8,471.9Z" fill="#fff" stroke="#f03a3a" stroke-width="2.3" stroke-linejoin="miter"/>
<path d="M2274.3,420.9 L2295.3,455.9 L2253.3,455.9Z" fill="#f03a3a"/>
<path d="M2327.8,433.5 L2357.3,483.0 L2298.3,483.0Z" fill="#fff" stroke="#f03a3a" stroke-width="2.3" stroke-linejoin="miter"/>
<path d="M2327.8,432.0 L2348.8,467.0 L2306.8,467.0Z" fill="#f03a3a"/>
<path d="M2385.7,458.0 L2415.2,507.5 L2356.2,507.5Z" fill="#fff" stroke="#f03a3a" stroke-width="2.3" stroke-linejoin="miter"/>
<path d="M2385.7,456.5 L2406.7,491.5 L2364.7,491.5Z" fill="#f03a3a"/>
<path d="M2446.4,601.7 L2475.9,651.2 L2416.9,651.2Z" fill="#fff" stroke="#f03a3a" stroke-width="2.3" stroke-linejoin="miter"/>
<path d="M2446.4,600.2 L2467.4,635.2 L2425.4,635.2Z" fill="#f03a3a"/>
<path d="M2520.1,620.8 L2549.6,670.3 L2490.6,670.3Z" fill="#fff" stroke="#f03a3a" stroke-width="2.3" stroke-linejoin="miter"/>
<path d="M2520.1,619.3 L2541.1,654.3 L2499.1,654.3Z" fill="#f03a3a"/>
<path d="M2602.6,611.1 L2632.1,660.6 L2573.1,660.6Z" fill="#fff" stroke="#f03a3a" stroke-width="2.3" stroke-linejoin="miter"/>
<path d="M2602.6,609.6 L2623.6,644.6 L2581.6,644.6Z" fill="#f03a3a"/>
<path d="M2684.0,536.9 L2713.5,586.4 L2654.5,586.4Z" fill="#fff" stroke="#f03a3a" stroke-width="2.3" stroke-linejoin="miter"/>
<path d="M2684.0,535.4 L2705.0,570.4 L2663.0,570.4Z" fill="#f03a3a"/>
<path d="M2775.7,407.0 L2805.2,456.5 L2746.2,456.5Z" fill="#fff" stroke="#f03a3a" stroke-width="2.3" stroke-linejoin="miter"/>
<path d="M2775.7,405.5 L2796.7,440.5 L2754.7,440.5Z" fill="#f03a3a"/>
<path d="M2855.1,83.3 L2884.6,132.8 L2825.6,132.8Z" fill="#fff" stroke="#f03a3a" stroke-width="2.3" stroke-linejoin="miter"/>
<path d="M2855.1,81.8 L2876.1,116.8 L2834.1,116.8Z" fill="#f03a3a"/>
<path d="M1948.3,858.3 L1952.7,858.2 L1957.0,858.2 L1961.0,858.1 L1964.8,858.1 L1968.4,858.1 L1971.8,858.1 L1975.1,858.1 L1978.2,858.1 L1981.1,858.1 L1983.8,858.1 L1986.4,858.1 L1988.9,858.1 L1991.3,858.2 L1993.5,858.2 L1995.6,858.3 L1997.5,858.3 L1999.4,858.4 L2001.2,858.4 L2002.9,858.5 L2004.5,858.5 L2006.1,858.6 L2007.5,858.6 L2008.9,858.7 L2010.3,858.7 L2011.6,858.8 L2012.9,858.8 L2014.2,858.9 L2015.4,858.9 L2016.6,858.9 L2017.9,859.0 L2019.1,859.0 L2020.3,859.0 L2021.5,859.0 L2022.6,859.0 L2023.8,859.0 L2025.0,859.0 L2026.2,859.0 L2027.4,859.0 L2028.5,859.0 L2029.7,859.0 L2030.9,859.0 L2032.0,859.0 L2033.2,859.0 L2034.4,858.9 L2035.6,858.9 L2036.8,858.9 L2038.0,858.9 L2039.1,858.8 L2040.3,858.8 L2041.6,858.8 L2042.8,858.7 L2044.0,858.7 L2045.2,858.7 L2046.5,858.6 L2047.7,858.6 L2049.0,858.6 L2050.3,858.5 L2051.6,858.5 L2052.9,858.5 L2054.2,858.4 L2055.6,858.4 L2056.9,858.4 L2058.3,858.3 L2059.7,858.3 L2061.0,858.2 L2062.4,858.2 L2063.8,858.1 L2065.2,858.1 L2066.6,858.0 L2068.1,858.0 L2069.5,857.9 L2070.9,857.8 L2072.4,857.8 L2073.8,857.7 L2075.3,857.6 L2076.7,857.5 L2078.2,857.4 L2079.7,857.3 L2081.1,857.2 L2082.6,857.1 L2084.0,857.0 L2085.5,856.8 L2087.0,856.7 L2088.5,856.5 L2089.9,856.4 L2091.4,856.2 L2092.8,856.0 L2094.3,855.8 L2095.8,855.6 L2097.2,855.3 L2098.7,855.1 L2100.1,854.7 L2101.6,854.4 L2103.1,853.9 L2104.5,853.5 L2106.0,852.9 L2107.4,852.3 L2108.9,851.6 L2110.4,850.9 L2111.8,850.1 L2113.3,849.1 L2114.8,848.1 L2116.3,847.0 L2117.7,845.8 L2119.2,844.5 L2120.7,843.0 L2122.2,841.4 L2123.7,839.8 L2125.2,837.9 L2126.7,836.0 L2128.2,833.9 L2129.7,831.6 L2131.2,829.2 L2132.7,826.7 L2134.2,824.0 L2135.8,821.1 L2137.3,818.1 L2138.9,814.9 L2140.4,811.6 L2142.0,808.1 L2143.5,804.5 L2145.1,800.8 L2146.7,796.9 L2148.3,792.9 L2149.8,788.9 L2151.4,784.7 L2153.0,780.4 L2154.6,776.0 L2156.2,771.5 L2157.9,766.9 L2159.5,762.2 L2161.1,757.4 L2162.7,752.6 L2164.4,747.7 L2166.0,742.7 L2167.7,737.7 L2169.3,732.6 L2171.0,727.4 L2172.6,722.3 L2174.3,717.0 L2176.0,711.7 L2177.7,706.4 L2179.4,701.1 L2181.1,695.7 L2182.7,690.4 L2184.4,685.0 L2186.2,679.6 L2187.9,674.2 L2189.6,668.9 L2191.3,663.6 L2193.0,658.3 L2194.7,653.1 L2196.4,647.9 L2198.2,642.8 L2199.9,637.7 L2201.6,632.7 L2203.3,627.9 L2205.1,623.1 L2206.8,618.4 L2208.5,613.8 L2210.2,609.3 L2212.0,605.0 L2213.7,600.8 L2215.4,596.7 L2217.1,592.8 L2218.8,589.1 L2220.5,585.5 L2222.3,582.1 L2224.0,578.9 L2225.7,575.9 L2227.3,573.1 L2229.0,570.5 L2230.7,568.1 L2232.4,565.9 L2234.1,563.9 L2235.8,562.0 L2237.4,560.4 L2239.1,558.9 L2240.8,557.5 L2242.4,556.4 L2244.1,555.3 L2245.8,554.4 L2247.4,553.7 L2249.1,553.0 L2250.8,552.5 L2252.5,552.1 L2254.1,551.8 L2255.8,551.6 L2257.5,551.4 L2259.2,551.4 L2260.8,551.4 L2262.5,551.5 L2264.2,551.6 L2265.9,551.8 L2267.6,552.1 L2269.3,552.3 L2271.0,552.6 L2272.8,553.0 L2274.5,553.3 L2276.2,553.7 L2278.0,554.0 L2279.7,554.4 L2281.5,554.8 L2283.3,555.1 L2285.0,555.5 L2286.8,555.9 L2288.6,556.3 L2290.4,556.7 L2292.2,557.1 L2294.0,557.5 L2295.9,557.9 L2297.7,558.4 L2299.5,558.8 L2301.4,559.2 L2303.2,559.7 L2305.1,560.1 L2307.0,560.6 L2308.8,561.1 L2310.7,561.6 L2312.6,562.1 L2314.5,562.6 L2316.4,563.1 L2318.3,563.6 L2320.2,564.2 L2322.2,564.7 L2324.1,565.3 L2326.0,565.8 L2328.0,566.4 L2330.0,567.0 L2331.9,567.6 L2333.9,568.3 L2335.9,568.9 L2337.9,569.6 L2339.9,570.3 L2341.9,571.1 L2343.9,571.9 L2345.9,572.7 L2347.9,573.6 L2349.9,574.6 L2351.9,575.6 L2354.0,576.7 L2356.0,577.9 L2358.1,579.1 L2360.1,580.4 L2362.2,581.8 L2364.2,583.3 L2366.3,584.9 L2368.3,586.5 L2370.4,588.3 L2372.5,590.2 L2374.6,592.2 L2376.7,594.3 L2378.7,596.5 L2380.8,598.9 L2382.9,601.4 L2385.0,604.0 L2387.1,606.7 L2389.2,609.6 L2391.3,612.6 L2393.4,615.7 L2395.5,619.0 L2397.7,622.3 L2399.8,625.7 L2401.9,629.2 L2404.0,632.8 L2406.2,636.4 L2408.3,640.0 L2410.5,643.7 L2412.7,647.4 L2414.8,651.1 L2417.0,654.9 L2419.2,658.6 L2421.4,662.3 L2423.6,666.0 L2425.8,669.7 L2428.1,673.3 L2430.3,676.9 L2432.5,680.4 L2434.8,683.8 L2437.1,687.1 L2439.4,690.4 L2441.7,693.5 L2444.0,696.5 L2446.3,699.5 L2448.7,702.2 L2451.1,704.9 L2453.4,707.4 L2455.8,709.7 L2458.3,712.0 L2460.7,714.1 L2463.1,716.0 L2465.6,717.9 L2468.0,719.6 L2470.5,721.3 L2473.0,722.8 L2475.5,724.2 L2478.1,725.5 L2480.6,726.7 L2483.1,727.8 L2485.7,728.9 L2488.3,729.8 L2490.9,730.7 L2493.5,731.5 L2496.1,732.2 L2498.7,732.8 L2501.3,733.4 L2504.0,733.9 L2506.7,734.4 L2509.3,734.8 L2512.0,735.1 L2514.7,735.4 L2517.4,735.7 L2520.1,735.9 L2522.8,736.1 L2525.6,736.2 L2528.3,736.3 L2531.1,736.4 L2533.8,736.4 L2536.6,736.4 L2539.4,736.4 L2542.2,736.3 L2545.0,736.1 L2547.8,735.9 L2550.6,735.7 L2553.4,735.4 L2556.2,735.1 L2559.0,734.7 L2561.9,734.3 L2564.7,733.8 L2567.6,733.2 L2570.4,732.6 L2573.3,731.9 L2576.1,731.2 L2579.0,730.4 L2581.8,729.5 L2584.7,728.6 L2587.6,727.6 L2590.4,726.5 L2593.3,725.4 L2596.2,724.2 L2599.0,722.9 L2601.9,721.6 L2604.8,720.1 L2607.6,718.6 L2610.5,717.0 L2613.4,715.4 L2616.3,713.6 L2619.2,711.8 L2622.1,709.8 L2625.1,707.8 L2628.0,705.7 L2631.0,703.5 L2634.0,701.2 L2637.0,698.7 L2640.1,696.2 L2643.2,693.6 L2646.3,690.9 L2649.5,688.1 L2652.7,685.1 L2655.9,682.1 L2659.2,678.9 L2662.5,675.6 L2665.9,672.2 L2669.3,668.7 L2672.8,665.1 L2676.3,661.3 L2679.9,657.4 L2683.6,653.4 L2687.3,649.2 L2691.1,644.9 L2694.9,640.5 L2698.8,635.9 L2702.8,631.1 L2706.9,626.0 L2711.1,620.6 L2715.4,614.7 L2719.7,608.4 L2724.2,601.6 L2728.8,594.2 L2733.6,586.2 L2738.4,577.5 L2743.4,568.0 L2748.5,557.7 L2753.8,546.5 L2759.2,534.5 L2764.8,521.4 L2770.6,507.3 L2776.5,492.1 L2782.6,475.7 L2788.9,458.1 L2795.4,439.2 L2802.1,419.0 L2809.0,397.4 L2816.1,374.4 L2823.5,349.8 L2831.0,323.7 L2838.8,295.9 L2846.8,266.4 L2855.1,235.2" fill="none" stroke="#1b63da" stroke-width="4.5" stroke-linejoin="round"/>
<circle cx="1948.3" cy="858.3" r="24.2" fill="#fff" stroke="#1b63da" stroke-width="2.5"/>
<path d="M1924.1,856.8 A24.2,24.2 0 0 0 1972.5,856.8Z" fill="#1b63da" stroke="#1b63da" stroke-width="1.5"/>
<circle cx="1991.5" cy="857.6" r="24.2" fill="#fff" stroke="#1b63da" stroke-width="2.5"/>
<path d="M1967.3,856.1 A24.2,24.2 0 0 0 2015.7,856.1Z" fill="#1b63da" stroke="#1b63da" stroke-width="1.5"/>
<circle cx="2017.3" cy="859.6" r="24.2" fill="#fff" stroke="#1b63da" stroke-width="2.5"/>
<path d="M1993.1,858.1 A24.2,24.2 0 0 0 2041.5,858.1Z" fill="#1b63da" stroke="#1b63da" stroke-width="1.5"/>
<circle cx="2048.4" cy="858.5" r="24.2" fill="#fff" stroke="#1b63da" stroke-width="2.5"/>
<path d="M2024.2,857.0 A24.2,24.2 0 0 0 2072.6,857.0Z" fill="#1b63da" stroke="#1b63da" stroke-width="1.5"/>
<circle cx="2090.9" cy="857.6" r="24.2" fill="#fff" stroke="#1b63da" stroke-width="2.5"/>
<path d="M2066.7,856.1 A24.2,24.2 0 0 0 2115.1,856.1Z" fill="#1b63da" stroke="#1b63da" stroke-width="1.5"/>
<circle cx="2131.9" cy="848.8" r="24.2" fill="#fff" stroke="#1b63da" stroke-width="2.5"/>
<path d="M2107.7,847.3 A24.2,24.2 0 0 0 2156.1,847.3Z" fill="#1b63da" stroke="#1b63da" stroke-width="1.5"/>
<circle cx="2177.8" cy="707.3" r="24.2" fill="#fff" stroke="#1b63da" stroke-width="2.5"/>
<path d="M2153.6,705.8 A24.2,24.2 0 0 0 2202.0,705.8Z" fill="#1b63da" stroke="#1b63da" stroke-width="1.5"/>
<circle cx="2228.0" cy="544.6" r="24.2" fill="#fff" stroke="#1b63da" stroke-width="2.5"/>
<path d="M2203.8,543.1 A24.2,24.2 0 0 0 2252.2,543.1Z" fill="#1b63da" stroke="#1b63da" stroke-width="1.5"/>
<circle cx="2274.3" cy="552.9" r="24.2" fill="#fff" stroke="#1b63da" stroke-width="2.5"/>
<path d="M2250.1,551.4 A24.2,24.2 0 0 0 2298.5,551.4Z" fill="#1b63da" stroke="#1b63da" stroke-width="1.5"/>
<circle cx="2327.0" cy="564.8" r="24.2" fill="#fff" stroke="#1b63da" stroke-width="2.5"/>
<path d="M2302.8,563.3 A24.2,24.2 0 0 0 2351.2,563.3Z" fill="#1b63da" stroke="#1b63da" stroke-width="1.5"/>
<circle cx="2385.7" cy="586.4" r="24.2" fill="#fff" stroke="#1b63da" stroke-width="2.5"/>
<path d="M2361.5,584.9 A24.2,24.2 0 0 0 2409.9,584.9Z" fill="#1b63da" stroke="#1b63da" stroke-width="1.5"/>
<circle cx="2446.6" cy="721.6" r="24.2" fill="#fff" stroke="#1b63da" stroke-width="2.5"/>
<path d="M2422.4,720.1 A24.2,24.2 0 0 0 2470.8,720.1Z" fill="#1b63da" stroke="#1b63da" stroke-width="1.5"/>
<circle cx="2520.1" cy="740.6" r="24.2" fill="#fff" stroke="#1b63da" stroke-width="2.5"/>
<path d="M2495.9,739.1 A24.2,24.2 0 0 0 2544.3,739.1Z" fill="#1b63da" stroke="#1b63da" stroke-width="1.5"/>
<circle cx="2601.9" cy="731.9" r="24.2" fill="#fff" stroke="#1b63da" stroke-width="2.5"/>
<path d="M2577.7,730.4 A24.2,24.2 0 0 0 2626.1,730.4Z" fill="#1b63da" stroke="#1b63da" stroke-width="1.5"/>
<circle cx="2683.7" cy="661.2" r="24.2" fill="#fff" stroke="#1b63da" stroke-width="2.5"/>
<path d="M2659.5,659.7 A24.2,24.2 0 0 0 2707.9,659.7Z" fill="#1b63da" stroke="#1b63da" stroke-width="1.5"/>
<circle cx="2775.4" cy="540.2" r="24.2" fill="#fff" stroke="#1b63da" stroke-width="2.5"/>
<path d="M2751.2,538.7 A24.2,24.2 0 0 0 2799.6,538.7Z" fill="#1b63da" stroke="#1b63da" stroke-width="1.5"/>
<circle cx="2855.1" cy="235.2" r="24.2" fill="#fff" stroke="#1b63da" stroke-width="2.5"/>
<path d="M2830.9,233.7 A24.2,24.2 0 0 0 2879.3,233.7Z" fill="#1b63da" stroke="#1b63da" stroke-width="1.5"/>
<rect x="1946.2" y="80.4" width="148.4" height="5.6" fill="#1b63da"/>
<circle cx="2022.0" cy="82.4" r="24.2" fill="#fff" stroke="#1b63da" stroke-width="2.5"/>
<path d="M1997.8,80.9 A24.2,24.2 0 0 0 2046.2,80.9Z" fill="#1b63da" stroke="#1b63da" stroke-width="1.5"/>
<rect x="1946.2" y="161" width="148.4" height="6.4" fill="#f03a3a"/>
<path d="M2022.5,130.0 L2052.0,179.5 L1993.0,179.5Z" fill="#fff" stroke="#f03a3a" stroke-width="2.3" stroke-linejoin="miter"/>
<path d="M2022.5,128.5 L2045.6,167.0 L1999.4,167.0Z" fill="#f03a3a"/>
<rect x="1906.5" y="34.5" width="987.0" height="3.6" fill="#000"/>
<rect x="1906.5" y="900.5" width="987.0" height="4" fill="#000"/>
<rect x="1906.5" y="38.099999999999994" width="3" height="862.4000000000001" fill="#2268cf"/>
<rect x="2890.5" y="38.099999999999994" width="3" height="862.4000000000001" fill="#dd4545"/>
<rect x="1909.5" y="74.5" width="12" height="3" fill="#2268cf"/>
<rect x="1909.5" y="123.6" width="6" height="3" fill="#2268cf"/>
<rect x="1909.5" y="172.7" width="12" height="3" fill="#2268cf"/>
<rect x="1909.5" y="221.8" width="6" height="3" fill="#2268cf"/>
<rect x="1909.5" y="270.9" width="12" height="3" fill="#2268cf"/>
<rect x="1909.5" y="320.0" width="6" height="3" fill="#2268cf"/>
<rect x="1909.5" y="369.1" width="12" height="3" fill="#2268cf"/>
<rect x="1909.5" y="418.2" width="6" height="3" fill="#2268cf"/>
<rect x="1909.5" y="467.3" width="12" height="3" fill="#2268cf"/>
<rect x="1909.5" y="516.4" width="6" height="3" fill="#2268cf"/>
<rect x="1909.5" y="565.5" width="12" height="3" fill="#2268cf"/>
<rect x="1909.5" y="614.6" width="6" height="3" fill="#2268cf"/>
<rect x="1909.5" y="663.7" width="12" height="3" fill="#2268cf"/>
<rect x="1909.5" y="712.8" width="6" height="3" fill="#2268cf"/>
<rect x="1909.5" y="761.9" width="12" height="3" fill="#2268cf"/>
<rect x="1909.5" y="811.0" width="6" height="3" fill="#2268cf"/>
<rect x="1909.5" y="860.1" width="12" height="3" fill="#2268cf"/>
<rect x="2884.0" y="75.3" width="6.5" height="3" fill="#dd4545"/>
<rect x="2878.0" y="154.0" width="12.5" height="3" fill="#dd4545"/>
<rect x="2884.0" y="232.7" width="6.5" height="3" fill="#dd4545"/>
<rect x="2878.0" y="311.5" width="12.5" height="3" fill="#dd4545"/>
<rect x="2884.0" y="390.2" width="6.5" height="3" fill="#dd4545"/>
<rect x="2878.0" y="468.9" width="12.5" height="3" fill="#dd4545"/>
<rect x="2884.0" y="547.6" width="6.5" height="3" fill="#dd4545"/>
<rect x="2878.0" y="626.3" width="12.5" height="3" fill="#dd4545"/>
<rect x="2884.0" y="705.1" width="6.5" height="3" fill="#dd4545"/>
<rect x="2878.0" y="783.8" width="12.5" height="3" fill="#dd4545"/>
<rect x="2884.0" y="862.5" width="6.5" height="3" fill="#dd4545"/>
<rect x="1924.2" y="888.0" width="3" height="12.5" fill="#000"/>
<rect x="2022.7" y="894.0" width="3" height="6.5" fill="#000"/>
<rect x="2121.2" y="888.0" width="3" height="12.5" fill="#000"/>
<rect x="2219.8" y="894.0" width="3" height="6.5" fill="#000"/>
<rect x="2318.3" y="888.0" width="3" height="12.5" fill="#000"/>
<rect x="2416.8" y="894.0" width="3" height="6.5" fill="#000"/>
<rect x="2515.3" y="888.0" width="3" height="12.5" fill="#000"/>
<rect x="2613.9" y="894.0" width="3" height="6.5" fill="#000"/>
<rect x="2712.4" y="888.0" width="3" height="12.5" fill="#000"/>
<rect x="2810.9" y="894.0" width="3" height="6.5" fill="#000"/>
<g font-family='"Liberation Serif", serif'>
<g transform="translate(1751.8,51.5) scale(1.05,1)"><text font-size="53" fill="#000" text-anchor="middle" stroke="#000" stroke-width="0.3">(</text></g>
<g transform="translate(1802.0,51.5) scale(1.05,1)"><text font-size="53" fill="#000" text-anchor="middle" stroke="#000" stroke-width="0.3">)</text></g>
<g transform="translate(1776.5,51.2) scale(1.2,1)"><text font-size="44" fill="#000" text-anchor="middle" stroke="#000" stroke-width="0.3">b</text></g>
<g transform="translate(1832.3,92.2) scale(1.07,1)"><text font-size="48" fill="#2268cf" stroke="#2268cf" stroke-width="0.12" textLength="51.0" lengthAdjust="spacing">30</text></g>
<g transform="translate(1832.3,190.4) scale(1.07,1)"><text font-size="48" fill="#2268cf" stroke="#2268cf" stroke-width="0.12" textLength="51.0" lengthAdjust="spacing">35</text></g>
<g transform="translate(1832.3,288.6) scale(1.07,1)"><text font-size="48" fill="#2268cf" stroke="#2268cf" stroke-width="0.12" textLength="51.0" lengthAdjust="spacing">30</text></g>
<g transform="translate(1832.3,386.8) scale(1.07,1)"><text font-size="48" fill="#2268cf" stroke="#2268cf" stroke-width="0.12" textLength="51.0" lengthAdjust="spacing">25</text></g>
<g transform="translate(1832.3,485.0) scale(1.07,1)"><text font-size="48" fill="#2268cf" stroke="#2268cf" stroke-width="0.12" textLength="51.0" lengthAdjust="spacing">20</text></g>
<g transform="translate(1832.3,583.2) scale(1.07,1)"><text font-size="48" fill="#2268cf" stroke="#2268cf" stroke-width="0.12" textLength="51.0" lengthAdjust="spacing">15</text></g>
<g transform="translate(1832.3,681.4) scale(1.07,1)"><text font-size="48" fill="#2268cf" stroke="#2268cf" stroke-width="0.12" textLength="51.0" lengthAdjust="spacing">10</text></g>
<g transform="translate(1873.1,779.6) scale(1.06,1)"><text font-size="48" fill="#2268cf" text-anchor="middle" stroke="#2268cf" stroke-width="0.12">5</text></g>
<g transform="translate(1873.1,877.8) scale(1.06,1)"><text font-size="48" fill="#2268cf" text-anchor="middle" stroke="#2268cf" stroke-width="0.12">0</text></g>
<g transform="translate(2912.3,170.0) scale(1.07,1)"><text font-size="48" fill="#dd4545" stroke="#dd4545" stroke-width="0.12" textLength="49.9" lengthAdjust="spacing">16</text></g>
<g transform="translate(2912.3,328.0) scale(1.07,1)"><text font-size="48" fill="#dd4545" stroke="#dd4545" stroke-width="0.12" textLength="49.9" lengthAdjust="spacing">12</text></g>
<g transform="translate(2926.0,485.6) scale(1.06,1)"><text font-size="48" fill="#dd4545" text-anchor="middle" stroke="#dd4545" stroke-width="0.12">8</text></g>
<g transform="translate(2926.0,643.0) scale(1.06,1)"><text font-size="48" fill="#dd4545" text-anchor="middle" stroke="#dd4545" stroke-width="0.12">4</text></g>
<g transform="translate(2926.0,800.4) scale(1.06,1)"><text font-size="48" fill="#dd4545" text-anchor="middle" stroke="#dd4545" stroke-width="0.12">0</text></g>
<g transform="translate(1924.6,957.8) scale(1.06,1)"><text font-size="48" fill="#000" text-anchor="middle" stroke="#000" stroke-width="0.3">0</text></g>
<g transform="translate(2121.4,957.8) scale(1.06,1)"><text font-size="48" fill="#000" text-anchor="middle" stroke="#000" stroke-width="0.3">5</text></g>
<g transform="translate(2294.8,957.8) scale(1.0616666666666579,1)"><text font-size="48" fill="#000" stroke="#000" stroke-width="0.3" textLength="48.0" lengthAdjust="spacing">10</text></g>
<g transform="translate(2492.1,957.8) scale(1.0699999999999932,1)"><text font-size="48" fill="#000" stroke="#000" stroke-width="0.3" textLength="48.0" lengthAdjust="spacing">15</text></g>
<g transform="translate(2687.0,957.8) scale(1.07,1)"><text font-size="48" fill="#000" stroke="#000" stroke-width="0.3" textLength="50.1" lengthAdjust="spacing">20</text></g>
<g transform="translate(2230.5,1030.2) scale(1.2,1)"><text font-size="48" fill="#000" stroke="#000" stroke-width="0.3" textLength="169.6" lengthAdjust="spacing">Pressure</text></g>
<line x1="2439.3" y1="1041.2" x2="2458.0" y2="994.4" stroke="#000" stroke-width="3.0" stroke-linecap="butt"/>
<g transform="translate(2463.5,1030.2) scale(1.2,1)"><text font-size="48" fill="#000" stroke="#000" stroke-width="0.3" textLength="88.5" lengthAdjust="spacing">GPa</text></g>
<g transform="translate(2132.0,97.5) scale(1.12,1)"><text font-size="48" fill="#000" text-anchor="middle" font-style="italic" stroke="#000" stroke-width="0.3">J</text></g>
<g filter="url(#nf)">
<g transform="translate(2146.3,104.2) scale(1.2,1)"><text font-size="33" fill="#000" stroke="#000" stroke-width="0.3" textLength="34.3" lengthAdjust="spacing">ph</text></g>
</g>
<g transform="translate(2135.1,171.0) scale(1.12,1)"><text font-size="48" fill="#000" text-anchor="middle" font-style="italic" stroke="#000" stroke-width="0.3">R</text></g>
<g transform="translate(1782.2,0) rotate(-90)" fill="#2268cf">
<g transform="translate(-626.1,0.0) scale(1.12,1)"><text font-size="48" fill="#2268cf" text-anchor="middle" font-style="italic" stroke="#2268cf" stroke-width="0.12">J</text></g>
<g transform="translate(-612.3,7.5) scale(1.2,1)"><text font-size="33" fill="#2268cf" stroke="#2268cf" stroke-width="0.12" textLength="34.9" lengthAdjust="spacing">ph</text></g>
<line x1="-566.9" y1="10.2" x2="-546.5" y2="-36.8" stroke="#2268cf" stroke-width="3.0" stroke-linecap="butt"/>
<g transform="translate(-533.4,0.0) scale(1.12,1)"><text font-size="48" fill="#2268cf" text-anchor="middle" stroke="#2268cf" stroke-width="0.12">(</text></g>
<g transform="translate(-522.8,0.0) scale(1.0985182399398268,1)"><text font-size="48" fill="#2268cf" stroke="#2268cf" stroke-width="0.12" textLength="62.3" lengthAdjust="spacing">µA</text></g>
<g transform="translate(-445.7,0.0) scale(1.12,1)"><text font-size="48" fill="#2268cf" text-anchor="middle" stroke="#2268cf" stroke-width="0.12">·</text></g>
<g transform="translate(-436.5,0.0) scale(1.1316386890487613,1)"><text font-size="48" fill="#2268cf" stroke="#2268cf" stroke-width="0.12" textLength="58.6" lengthAdjust="spacing">cm</text></g>
<g transform="translate(-363.0,-15.7) scale(1.2,1)"><text font-size="31" fill="#2268cf" stroke="#2268cf" stroke-width="0.12" textLength="37.9" lengthAdjust="spacing">−2</text></g>
<g transform="translate(-306.3,0.0) scale(1.12,1)"><text font-size="48" fill="#2268cf" text-anchor="middle" stroke="#2268cf" stroke-width="0.12">)</text></g>
</g>
<g transform="translate(3047.9,0) rotate(-90)" fill="#dd4545">
<g transform="translate(-609.5,0.0) scale(1.12,1)"><text font-size="48" fill="#dd4545" text-anchor="middle" font-style="italic" stroke="#dd4545" stroke-width="0.12">R</text></g>
<line x1="-583.5" y1="11.0" x2="-564.2" y2="-35.8" stroke="#dd4545" stroke-width="3.0" stroke-linecap="butt"/>
<g transform="translate(-551.6,0.0) scale(1.12,1)"><text font-size="48" fill="#dd4545" text-anchor="middle" stroke="#dd4545" stroke-width="0.12">(</text></g>
<g transform="translate(-541.7,0.0) scale(1.1577777777777771,1)"><text font-size="48" fill="#dd4545" stroke="#dd4545" stroke-width="0.12" textLength="72.0" lengthAdjust="spacing">mA</text></g>
<g transform="translate(-443.2,0.0) scale(1.12,1)"><text font-size="48" fill="#dd4545" text-anchor="middle" stroke="#dd4545" stroke-width="0.12">·</text></g>
<g transform="translate(-407.6,0.0) scale(1.12,1)"><text font-size="48" fill="#dd4545" text-anchor="middle" stroke="#dd4545" stroke-width="0.12">W</text></g>
<g transform="translate(-375.6,-15.7) scale(1.2,1)"><text font-size="31" fill="#dd4545" stroke="#dd4545" stroke-width="0.12" textLength="34.3" lengthAdjust="spacing">−1</text></g>
<g transform="translate(-322.9,0.0) scale(1.12,1)"><text font-size="48" fill="#dd4545" text-anchor="middle" stroke="#dd4545" stroke-width="0.12">)</text></g>
</g>
</g>
</svg>
</body></html>
